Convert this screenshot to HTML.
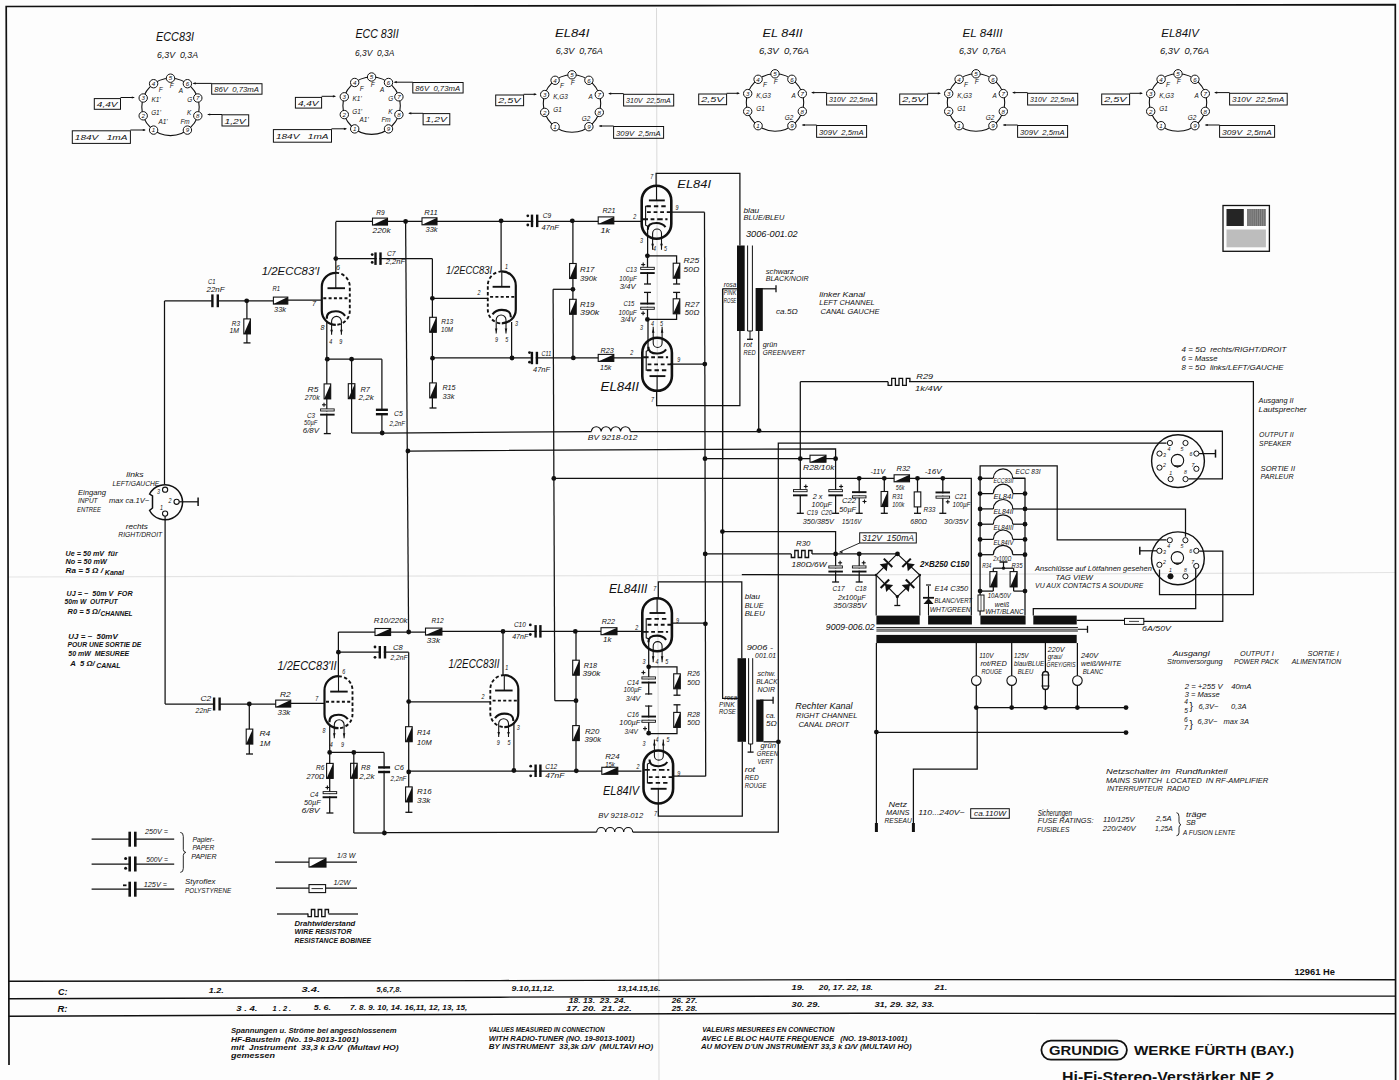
<!DOCTYPE html><html><head><meta charset="utf-8"><style>html,body{margin:0;padding:0;background:#fff;}svg{display:block;}</style></head><body><svg width="1399" height="1080" viewBox="0 0 1399 1080"><rect width="1399" height="1080" fill="#fdfdfd"/><polyline points="656.5,8 659,1080" fill="none" stroke="#dadada" stroke-width="1.0"/>
<polyline points="8,577 700,575.5 1395,572.5" fill="none" stroke="#e4e4e4" stroke-width="1.2"/>
<polyline points="9,1065 8,540 6.2,6.5 700,5.6 1395.3,4.6 1395.6,1080" fill="none" stroke="#111" stroke-width="1.7"/>
<polyline points="8.5,981.3 500,980.6 860,979.6 1200,979.6 1395,979.8" fill="none" stroke="#111" stroke-width="1.4"/>
<polyline points="8.5,998.8 500,997.2 860,995.9 1200,996.2 1395,996.1" fill="none" stroke="#111" stroke-width="1.4"/>
<polyline points="8.5,1016.3 500,1014.3 860,1013.2 1200,1013.6 1395,1013.7" fill="none" stroke="#111" stroke-width="1.4"/>
<text x="58" y="994.5" font-size="9.8" font-style="italic" font-weight="bold" font-family="Liberation Sans" fill="#111" style="white-space:pre" textLength="9.5" lengthAdjust="spacingAndGlyphs">C:</text>
<text x="208.7" y="992.8" font-size="7.8" font-style="italic" font-weight="bold" font-family="Liberation Sans" fill="#111" style="white-space:pre" textLength="15" lengthAdjust="spacingAndGlyphs">1.2.</text>
<text x="301.4" y="992.3" font-size="7.8" font-style="italic" font-weight="bold" font-family="Liberation Sans" fill="#111" style="white-space:pre" textLength="18.6" lengthAdjust="spacingAndGlyphs">3.4.</text>
<text x="376.6" y="991.6" font-size="7.8" font-style="italic" font-weight="bold" font-family="Liberation Sans" fill="#111" style="white-space:pre" textLength="24.9" lengthAdjust="spacingAndGlyphs">5,6,7,8.</text>
<text x="511.6" y="991.4" font-size="7.8" font-style="italic" font-weight="bold" font-family="Liberation Sans" fill="#111" style="white-space:pre" textLength="42.9" lengthAdjust="spacingAndGlyphs">9.10,11,12.</text>
<text x="617.4" y="991.2" font-size="7.8" font-style="italic" font-weight="bold" font-family="Liberation Sans" fill="#111" style="white-space:pre" textLength="42.9" lengthAdjust="spacingAndGlyphs">13,14.15,16.</text>
<text x="791.5" y="990.2" font-size="7.8" font-style="italic" font-weight="bold" font-family="Liberation Sans" fill="#111" style="white-space:pre" textLength="12.9" lengthAdjust="spacingAndGlyphs">19.</text>
<text x="818.7" y="990.2" font-size="7.8" font-style="italic" font-weight="bold" font-family="Liberation Sans" fill="#111" style="white-space:pre" textLength="54.3" lengthAdjust="spacingAndGlyphs">20, 17. 22, 18.</text>
<text x="934.5" y="990" font-size="7.8" font-style="italic" font-weight="bold" font-family="Liberation Sans" fill="#111" style="white-space:pre" textLength="12.8" lengthAdjust="spacingAndGlyphs">21.</text>
<text x="57.5" y="1012.2" font-size="9.8" font-style="italic" font-weight="bold" font-family="Liberation Sans" fill="#111" style="white-space:pre" textLength="10" lengthAdjust="spacingAndGlyphs">R:</text>
<text x="236.2" y="1010.8" font-size="7.8" font-style="italic" font-weight="bold" font-family="Liberation Sans" fill="#111" style="white-space:pre" textLength="21.3" lengthAdjust="spacingAndGlyphs">3 . 4.</text>
<text x="272.5" y="1010.8" font-size="7.8" font-style="italic" font-weight="bold" font-family="Liberation Sans" fill="#111" style="white-space:pre" textLength="18.7" lengthAdjust="spacingAndGlyphs">1 . 2 .</text>
<text x="313.7" y="1010.3" font-size="7.8" font-style="italic" font-weight="bold" font-family="Liberation Sans" fill="#111" style="white-space:pre" textLength="17.3" lengthAdjust="spacingAndGlyphs">5. 6.</text>
<text x="350" y="1009.6" font-size="7.8" font-style="italic" font-weight="bold" font-family="Liberation Sans" fill="#111" style="white-space:pre" textLength="117.3" lengthAdjust="spacingAndGlyphs">7. 8. 9. 10, 14. 16,11, 12, 13, 15,</text>
<text x="568.8" y="1003" font-size="7.8" font-style="italic" font-weight="bold" font-family="Liberation Sans" fill="#111" style="white-space:pre" textLength="57.2" lengthAdjust="spacingAndGlyphs">18. 13.  23. 24.</text>
<text x="566" y="1011.4" font-size="7.8" font-style="italic" font-weight="bold" font-family="Liberation Sans" fill="#111" style="white-space:pre" textLength="65.7" lengthAdjust="spacingAndGlyphs">17. 20.  21. 22.</text>
<text x="671.7" y="1003" font-size="7.8" font-style="italic" font-weight="bold" font-family="Liberation Sans" fill="#111" style="white-space:pre" textLength="25.7" lengthAdjust="spacingAndGlyphs">26. 27.</text>
<text x="671.7" y="1011" font-size="7.8" font-style="italic" font-weight="bold" font-family="Liberation Sans" fill="#111" style="white-space:pre" textLength="25.7" lengthAdjust="spacingAndGlyphs">25. 28.</text>
<text x="791.5" y="1007.4" font-size="7.8" font-style="italic" font-weight="bold" font-family="Liberation Sans" fill="#111" style="white-space:pre" textLength="28.5" lengthAdjust="spacingAndGlyphs">30. 29.</text>
<text x="874.4" y="1007.4" font-size="7.8" font-style="italic" font-weight="bold" font-family="Liberation Sans" fill="#111" style="white-space:pre" textLength="60.1" lengthAdjust="spacingAndGlyphs">31, 29. 32, 33.</text>
<text x="231" y="1033.1" font-size="6.7" font-style="italic" font-weight="bold" font-family="Liberation Sans" fill="#111" style="white-space:pre" textLength="165.6" lengthAdjust="spacingAndGlyphs">Spannungen u. Ströme bei angeschlossenem</text>
<text x="231" y="1041.7" font-size="6.7" font-style="italic" font-weight="bold" font-family="Liberation Sans" fill="#111" style="white-space:pre" textLength="127.6" lengthAdjust="spacingAndGlyphs">HF-Baustein  (No. 19-8013-1001)</text>
<text x="231" y="1050" font-size="6.7" font-style="italic" font-weight="bold" font-family="Liberation Sans" fill="#111" style="white-space:pre" textLength="167.6" lengthAdjust="spacingAndGlyphs">mit  Jnstrument  33,3 k Ω/V  (Multavi HO)</text>
<text x="231" y="1058.4" font-size="6.7" font-style="italic" font-weight="bold" font-family="Liberation Sans" fill="#111" style="white-space:pre" textLength="44" lengthAdjust="spacingAndGlyphs">gemessen</text>
<text x="488.7" y="1032.4" font-size="6.7" font-style="italic" font-weight="bold" font-family="Liberation Sans" fill="#111" style="white-space:pre" textLength="115.8" lengthAdjust="spacingAndGlyphs">VALUES MEASURED IN CONNECTION</text>
<text x="488.7" y="1040.6" font-size="6.7" font-style="italic" font-weight="bold" font-family="Liberation Sans" fill="#111" style="white-space:pre" textLength="145.8" lengthAdjust="spacingAndGlyphs">WITH RADIO-TUNER (NO. 19-8013-1001)</text>
<text x="488.7" y="1049" font-size="6.7" font-style="italic" font-weight="bold" font-family="Liberation Sans" fill="#111" style="white-space:pre" textLength="164.4" lengthAdjust="spacingAndGlyphs">BY INSTRUMENT  33,3k Ω/V  (MULTAVI HO)</text>
<text x="702.3" y="1032.4" font-size="6.7" font-style="italic" font-weight="bold" font-family="Liberation Sans" fill="#111" style="white-space:pre" textLength="132.1" lengthAdjust="spacingAndGlyphs">VALEURS MESUREES EN CONNECTION</text>
<text x="701.5" y="1040.6" font-size="6.7" font-style="italic" font-weight="bold" font-family="Liberation Sans" fill="#111" style="white-space:pre" textLength="205.8" lengthAdjust="spacingAndGlyphs">AVEC LE BLOC HAUTE FREQUENCE   (NO. 19-8013-1001)</text>
<text x="700.9" y="1049" font-size="6.7" font-style="italic" font-weight="bold" font-family="Liberation Sans" fill="#111" style="white-space:pre" textLength="210.7" lengthAdjust="spacingAndGlyphs">AU MOYEN D'UN JNSTRUMENT 33,3 k Ω/V (MULTAVI HO)</text>
<rect x="1041.4" y="1040.6" width="85.5" height="19" rx="9.5" fill="none" stroke="#111" stroke-width="1.8"/>
<text x="1049" y="1054.9" font-size="12.8" font-style="normal" font-weight="bold" font-family="Liberation Sans" fill="#111" style="white-space:pre" textLength="70" lengthAdjust="spacingAndGlyphs">GRUNDIG</text>
<text x="1134" y="1055.3" font-size="13.4" font-style="normal" font-weight="bold" font-family="Liberation Sans" fill="#111" style="white-space:pre" textLength="160" lengthAdjust="spacingAndGlyphs">WERKE FÜRTH (BAY.)</text>
<text x="1062" y="1082" font-size="15.4" font-style="normal" font-weight="bold" font-family="Liberation Sans" fill="#111" style="white-space:pre" textLength="212" lengthAdjust="spacingAndGlyphs">Hi-Fi-Stereo-Verstärker NF 2</text>
<text x="1294.4" y="975" font-size="9.5" font-style="normal" font-weight="bold" font-family="Liberation Sans" fill="#111" style="white-space:pre" textLength="40.6" lengthAdjust="spacingAndGlyphs">12961 He</text>
<text x="156" y="40.5" font-size="12" font-style="italic" font-weight="normal" font-family="Liberation Sans" fill="#111" style="white-space:pre" textLength="38" lengthAdjust="spacingAndGlyphs">ECC83I</text>
<text x="157" y="57.5" font-size="9.2" font-style="italic" font-weight="normal" font-family="Liberation Sans" fill="#111" style="white-space:pre" textLength="41" lengthAdjust="spacingAndGlyphs">6,3V  0,3A</text>
<circle cx="170.5" cy="106.9" r="28.7" fill="none" stroke="#111" stroke-width="1.1"/>
<circle cx="170.5" cy="78.2" r="4.2" fill="#fff" stroke="#111" stroke-width="1.0"/>
<text x="170.5" y="80.4" font-size="6.2" font-style="italic" font-family="Liberation Sans" text-anchor="middle" fill="#111">5</text>
<circle cx="187.4" cy="83.7" r="4.2" fill="#fff" stroke="#111" stroke-width="1.0"/>
<text x="187.4" y="85.9" font-size="6.2" font-style="italic" font-family="Liberation Sans" text-anchor="middle" fill="#111">6</text>
<circle cx="197.8" cy="98" r="4.2" fill="#fff" stroke="#111" stroke-width="1.0"/>
<text x="197.8" y="100.2" font-size="6.2" font-style="italic" font-family="Liberation Sans" text-anchor="middle" fill="#111">7</text>
<circle cx="197.8" cy="115.8" r="4.2" fill="#fff" stroke="#111" stroke-width="1.0"/>
<text x="197.8" y="118" font-size="6.2" font-style="italic" font-family="Liberation Sans" text-anchor="middle" fill="#111">8</text>
<circle cx="187.4" cy="130.1" r="4.2" fill="#fff" stroke="#111" stroke-width="1.0"/>
<text x="187.4" y="132.3" font-size="6.2" font-style="italic" font-family="Liberation Sans" text-anchor="middle" fill="#111">9</text>
<circle cx="153.6" cy="130.1" r="4.2" fill="#fff" stroke="#111" stroke-width="1.0"/>
<text x="153.6" y="132.3" font-size="6.2" font-style="italic" font-family="Liberation Sans" text-anchor="middle" fill="#111">1</text>
<circle cx="143.2" cy="115.8" r="4.2" fill="#fff" stroke="#111" stroke-width="1.0"/>
<text x="143.2" y="118" font-size="6.2" font-style="italic" font-family="Liberation Sans" text-anchor="middle" fill="#111">2</text>
<circle cx="143.2" cy="98" r="4.2" fill="#fff" stroke="#111" stroke-width="1.0"/>
<text x="143.2" y="100.2" font-size="6.2" font-style="italic" font-family="Liberation Sans" text-anchor="middle" fill="#111">3</text>
<circle cx="153.6" cy="83.7" r="4.2" fill="#fff" stroke="#111" stroke-width="1.0"/>
<text x="153.6" y="85.9" font-size="6.2" font-style="italic" font-family="Liberation Sans" text-anchor="middle" fill="#111">4</text>
<rect x="211.7" y="83.7" width="50.3" height="10.5" fill="none" stroke="#111" stroke-width="1.0"/>
<text x="214.2" y="92" font-size="7.8" font-style="italic" font-weight="normal" font-family="Liberation Sans" fill="#111" style="white-space:pre" textLength="44.8" lengthAdjust="spacingAndGlyphs">86V  0,73mA</text>
<polyline points="193.5,83.4 211.7,83.4" fill="none" stroke="#111" stroke-width="1.0"/>
<polygon points="192.5,83.4 195.7,82.3 195.7,84.5" fill="#111"/>
<rect x="94.3" y="98.6" width="26.2" height="10.7" fill="none" stroke="#111" stroke-width="1.0"/>
<text x="96.8" y="107.1" font-size="7.8" font-style="italic" font-weight="normal" font-family="Liberation Sans" fill="#111" style="white-space:pre" textLength="20.7" lengthAdjust="spacingAndGlyphs">4,4V</text>
<polyline points="120.5,97.5 134,97.5" fill="none" stroke="#111" stroke-width="1.0"/>
<polygon points="135,97.5 131.8,96.4 131.8,98.6" fill="#111"/>
<rect x="222" y="114.8" width="26.7" height="11.2" fill="none" stroke="#111" stroke-width="1.0"/>
<text x="224.5" y="123.5" font-size="7.8" font-style="italic" font-weight="normal" font-family="Liberation Sans" fill="#111" style="white-space:pre" textLength="21.2" lengthAdjust="spacingAndGlyphs">1,2V</text>
<polyline points="208,114.5 222,114.5" fill="none" stroke="#111" stroke-width="1.0"/>
<polygon points="207,114.5 210.2,113.4 210.2,115.6" fill="#111"/>
<rect x="72.3" y="130.8" width="58.1" height="12.6" fill="none" stroke="#111" stroke-width="1.0"/>
<text x="74.8" y="140.2" font-size="7.8" font-style="italic" font-weight="normal" font-family="Liberation Sans" fill="#111" style="white-space:pre" textLength="52.6" lengthAdjust="spacingAndGlyphs">184V   1mA</text>
<polyline points="130.4,130 145,130" fill="none" stroke="#111" stroke-width="1.0"/>
<polygon points="146,130 142.8,128.9 142.8,131.1" fill="#111"/>
<text x="160.6" y="92.2" font-size="6.4" font-style="italic" font-family="Liberation Sans" text-anchor="middle" fill="#111">F</text>
<text x="171.6" y="88.2" font-size="6.4" font-style="italic" font-family="Liberation Sans" text-anchor="middle" fill="#111">F</text>
<text x="181" y="93" font-size="6.4" font-style="italic" font-family="Liberation Sans" text-anchor="middle" fill="#111">A</text>
<text x="156" y="102.2" font-size="6.4" font-style="italic" font-family="Liberation Sans" text-anchor="middle" fill="#111">K1'</text>
<text x="189.7" y="102.2" font-size="6.4" font-style="italic" font-family="Liberation Sans" text-anchor="middle" fill="#111">G</text>
<text x="156" y="115" font-size="6.4" font-style="italic" font-family="Liberation Sans" text-anchor="middle" fill="#111">G1'</text>
<text x="189.2" y="115.2" font-size="6.4" font-style="italic" font-family="Liberation Sans" text-anchor="middle" fill="#111">K</text>
<text x="163" y="123.6" font-size="6.4" font-style="italic" font-family="Liberation Sans" text-anchor="middle" fill="#111">A1'</text>
<text x="185" y="123.6" font-size="6.4" font-style="italic" font-family="Liberation Sans" text-anchor="middle" fill="#111">Fm</text>
<text x="355.4" y="38.3" font-size="12" font-style="italic" font-weight="normal" font-family="Liberation Sans" fill="#111" style="white-space:pre" textLength="43.2" lengthAdjust="spacingAndGlyphs">ECC 83II</text>
<text x="355" y="55.5" font-size="9.2" font-style="italic" font-weight="normal" font-family="Liberation Sans" fill="#111" style="white-space:pre" textLength="39.3" lengthAdjust="spacingAndGlyphs">6,3V  0,3A</text>
<circle cx="371.6" cy="105.7" r="28.7" fill="none" stroke="#111" stroke-width="1.1"/>
<circle cx="371.6" cy="77" r="4.2" fill="#fff" stroke="#111" stroke-width="1.0"/>
<text x="371.6" y="79.2" font-size="6.2" font-style="italic" font-family="Liberation Sans" text-anchor="middle" fill="#111">5</text>
<circle cx="388.5" cy="82.5" r="4.2" fill="#fff" stroke="#111" stroke-width="1.0"/>
<text x="388.5" y="84.7" font-size="6.2" font-style="italic" font-family="Liberation Sans" text-anchor="middle" fill="#111">6</text>
<circle cx="398.9" cy="96.8" r="4.2" fill="#fff" stroke="#111" stroke-width="1.0"/>
<text x="398.9" y="99" font-size="6.2" font-style="italic" font-family="Liberation Sans" text-anchor="middle" fill="#111">7</text>
<circle cx="398.9" cy="114.6" r="4.2" fill="#fff" stroke="#111" stroke-width="1.0"/>
<text x="398.9" y="116.8" font-size="6.2" font-style="italic" font-family="Liberation Sans" text-anchor="middle" fill="#111">8</text>
<circle cx="388.5" cy="128.9" r="4.2" fill="#fff" stroke="#111" stroke-width="1.0"/>
<text x="388.5" y="131.1" font-size="6.2" font-style="italic" font-family="Liberation Sans" text-anchor="middle" fill="#111">9</text>
<circle cx="354.7" cy="128.9" r="4.2" fill="#fff" stroke="#111" stroke-width="1.0"/>
<text x="354.7" y="131.1" font-size="6.2" font-style="italic" font-family="Liberation Sans" text-anchor="middle" fill="#111">1</text>
<circle cx="344.3" cy="114.6" r="4.2" fill="#fff" stroke="#111" stroke-width="1.0"/>
<text x="344.3" y="116.8" font-size="6.2" font-style="italic" font-family="Liberation Sans" text-anchor="middle" fill="#111">2</text>
<circle cx="344.3" cy="96.8" r="4.2" fill="#fff" stroke="#111" stroke-width="1.0"/>
<text x="344.3" y="99" font-size="6.2" font-style="italic" font-family="Liberation Sans" text-anchor="middle" fill="#111">3</text>
<circle cx="354.7" cy="82.5" r="4.2" fill="#fff" stroke="#111" stroke-width="1.0"/>
<text x="354.7" y="84.7" font-size="6.2" font-style="italic" font-family="Liberation Sans" text-anchor="middle" fill="#111">4</text>
<rect x="412.8" y="82.5" width="50.3" height="10.5" fill="none" stroke="#111" stroke-width="1.0"/>
<text x="415.3" y="90.8" font-size="7.8" font-style="italic" font-weight="normal" font-family="Liberation Sans" fill="#111" style="white-space:pre" textLength="44.8" lengthAdjust="spacingAndGlyphs">86V  0,73mA</text>
<polyline points="394.6,82.2 412.8,82.2" fill="none" stroke="#111" stroke-width="1.0"/>
<polygon points="393.6,82.2 396.8,81.1 396.8,83.3" fill="#111"/>
<rect x="295.4" y="97.4" width="26.2" height="10.7" fill="none" stroke="#111" stroke-width="1.0"/>
<text x="297.9" y="105.8" font-size="7.8" font-style="italic" font-weight="normal" font-family="Liberation Sans" fill="#111" style="white-space:pre" textLength="20.7" lengthAdjust="spacingAndGlyphs">4,4V</text>
<polyline points="321.6,96.3 335.1,96.3" fill="none" stroke="#111" stroke-width="1.0"/>
<polygon points="336.1,96.3 332.9,95.2 332.9,97.4" fill="#111"/>
<rect x="423.1" y="113.6" width="26.7" height="11.2" fill="none" stroke="#111" stroke-width="1.0"/>
<text x="425.6" y="122.3" font-size="7.8" font-style="italic" font-weight="normal" font-family="Liberation Sans" fill="#111" style="white-space:pre" textLength="21.2" lengthAdjust="spacingAndGlyphs">1,2V</text>
<polyline points="409.1,113.3 423.1,113.3" fill="none" stroke="#111" stroke-width="1.0"/>
<polygon points="408.1,113.3 411.3,112.2 411.3,114.4" fill="#111"/>
<rect x="273.4" y="129.6" width="58.1" height="12.6" fill="none" stroke="#111" stroke-width="1.0"/>
<text x="275.9" y="139" font-size="7.8" font-style="italic" font-weight="normal" font-family="Liberation Sans" fill="#111" style="white-space:pre" textLength="52.6" lengthAdjust="spacingAndGlyphs">184V   1mA</text>
<polyline points="331.5,128.8 346.1,128.8" fill="none" stroke="#111" stroke-width="1.0"/>
<polygon points="347.1,128.8 343.9,127.7 343.9,129.9" fill="#111"/>
<text x="361.7" y="91" font-size="6.4" font-style="italic" font-family="Liberation Sans" text-anchor="middle" fill="#111">F</text>
<text x="372.7" y="87" font-size="6.4" font-style="italic" font-family="Liberation Sans" text-anchor="middle" fill="#111">F</text>
<text x="382.1" y="91.8" font-size="6.4" font-style="italic" font-family="Liberation Sans" text-anchor="middle" fill="#111">A</text>
<text x="357.1" y="101" font-size="6.4" font-style="italic" font-family="Liberation Sans" text-anchor="middle" fill="#111">K1'</text>
<text x="390.8" y="101" font-size="6.4" font-style="italic" font-family="Liberation Sans" text-anchor="middle" fill="#111">G</text>
<text x="357.1" y="113.8" font-size="6.4" font-style="italic" font-family="Liberation Sans" text-anchor="middle" fill="#111">G1'</text>
<text x="390.3" y="114" font-size="6.4" font-style="italic" font-family="Liberation Sans" text-anchor="middle" fill="#111">K</text>
<text x="364.1" y="122.4" font-size="6.4" font-style="italic" font-family="Liberation Sans" text-anchor="middle" fill="#111">A1'</text>
<text x="386.1" y="122.4" font-size="6.4" font-style="italic" font-family="Liberation Sans" text-anchor="middle" fill="#111">Fm</text>
<text x="555" y="37.3" font-size="11.5" font-style="italic" font-weight="normal" font-family="Liberation Sans" fill="#111" style="white-space:pre" textLength="34.3" lengthAdjust="spacingAndGlyphs">EL84I</text>
<text x="555.7" y="54.4" font-size="9.2" font-style="italic" font-weight="normal" font-family="Liberation Sans" fill="#111" style="white-space:pre" textLength="47.2" lengthAdjust="spacingAndGlyphs">6,3V  0,76A</text>
<circle cx="572" cy="103.5" r="28.7" fill="none" stroke="#111" stroke-width="1.1"/>
<circle cx="572" cy="74.8" r="4.2" fill="#fff" stroke="#111" stroke-width="1.0"/>
<text x="572" y="77" font-size="6.2" font-style="italic" font-family="Liberation Sans" text-anchor="middle" fill="#111">5</text>
<circle cx="588.9" cy="80.3" r="4.2" fill="#fff" stroke="#111" stroke-width="1.0"/>
<text x="588.9" y="82.5" font-size="6.2" font-style="italic" font-family="Liberation Sans" text-anchor="middle" fill="#111">6</text>
<circle cx="599.3" cy="94.6" r="4.2" fill="#fff" stroke="#111" stroke-width="1.0"/>
<text x="599.3" y="96.8" font-size="6.2" font-style="italic" font-family="Liberation Sans" text-anchor="middle" fill="#111">7</text>
<circle cx="599.3" cy="112.4" r="4.2" fill="#fff" stroke="#111" stroke-width="1.0"/>
<text x="599.3" y="114.6" font-size="6.2" font-style="italic" font-family="Liberation Sans" text-anchor="middle" fill="#111">8</text>
<circle cx="588.9" cy="126.7" r="4.2" fill="#fff" stroke="#111" stroke-width="1.0"/>
<text x="588.9" y="128.9" font-size="6.2" font-style="italic" font-family="Liberation Sans" text-anchor="middle" fill="#111">9</text>
<circle cx="555.1" cy="126.7" r="4.2" fill="#fff" stroke="#111" stroke-width="1.0"/>
<text x="555.1" y="128.9" font-size="6.2" font-style="italic" font-family="Liberation Sans" text-anchor="middle" fill="#111">1</text>
<circle cx="544.7" cy="112.4" r="4.2" fill="#fff" stroke="#111" stroke-width="1.0"/>
<text x="544.7" y="114.6" font-size="6.2" font-style="italic" font-family="Liberation Sans" text-anchor="middle" fill="#111">2</text>
<circle cx="544.7" cy="94.6" r="4.2" fill="#fff" stroke="#111" stroke-width="1.0"/>
<text x="544.7" y="96.8" font-size="6.2" font-style="italic" font-family="Liberation Sans" text-anchor="middle" fill="#111">3</text>
<circle cx="555.1" cy="80.3" r="4.2" fill="#fff" stroke="#111" stroke-width="1.0"/>
<text x="555.1" y="82.5" font-size="6.2" font-style="italic" font-family="Liberation Sans" text-anchor="middle" fill="#111">4</text>
<rect x="495.7" y="95" width="27.9" height="10.7" fill="none" stroke="#111" stroke-width="1.0"/>
<text x="498.2" y="103.4" font-size="7.8" font-style="italic" font-weight="normal" font-family="Liberation Sans" fill="#111" style="white-space:pre" textLength="22.4" lengthAdjust="spacingAndGlyphs">2,5V</text>
<polyline points="523.6,94.3 536,94.3" fill="none" stroke="#111" stroke-width="1.0"/>
<polygon points="537,94.3 533.8,93.2 533.8,95.4" fill="#111"/>
<rect x="623.6" y="94.3" width="50.1" height="11.7" fill="none" stroke="#111" stroke-width="1.0"/>
<text x="626.1" y="103.2" font-size="7.8" font-style="italic" font-weight="normal" font-family="Liberation Sans" fill="#111" style="white-space:pre" textLength="44.6" lengthAdjust="spacingAndGlyphs">310V  22,5mA</text>
<polyline points="609,93.6 623.6,93.6" fill="none" stroke="#111" stroke-width="1.0"/>
<polygon points="608,93.6 611.2,92.5 611.2,94.7" fill="#111"/>
<rect x="613.6" y="126.5" width="50" height="11.8" fill="none" stroke="#111" stroke-width="1.0"/>
<text x="616.1" y="135.5" font-size="7.8" font-style="italic" font-weight="normal" font-family="Liberation Sans" fill="#111" style="white-space:pre" textLength="44.5" lengthAdjust="spacingAndGlyphs">309V  2,5mA</text>
<polyline points="599.6,126 613.6,126" fill="none" stroke="#111" stroke-width="1.0"/>
<polygon points="598.6,126 601.8,124.9 601.8,127.1" fill="#111"/>
<text x="562" y="88.2" font-size="6.4" font-style="italic" font-family="Liberation Sans" text-anchor="middle" fill="#111">F</text>
<text x="572.6" y="85.1" font-size="6.4" font-style="italic" font-family="Liberation Sans" text-anchor="middle" fill="#111">F</text>
<text x="560.6" y="99.3" font-size="6.4" font-style="italic" font-family="Liberation Sans" text-anchor="middle" fill="#111">K,G3</text>
<text x="590.7" y="99.3" font-size="6.4" font-style="italic" font-family="Liberation Sans" text-anchor="middle" fill="#111">A</text>
<text x="557.5" y="112.2" font-size="6.4" font-style="italic" font-family="Liberation Sans" text-anchor="middle" fill="#111">G1</text>
<text x="586" y="120.8" font-size="6.4" font-style="italic" font-family="Liberation Sans" text-anchor="middle" fill="#111">G2</text>
<text x="762.5" y="37.1" font-size="11.5" font-style="italic" font-weight="normal" font-family="Liberation Sans" fill="#111" style="white-space:pre" textLength="40" lengthAdjust="spacingAndGlyphs">EL 84II</text>
<text x="759" y="54.3" font-size="9.2" font-style="italic" font-weight="normal" font-family="Liberation Sans" fill="#111" style="white-space:pre" textLength="50" lengthAdjust="spacingAndGlyphs">6,3V  0,76A</text>
<circle cx="775" cy="102.5" r="28.7" fill="none" stroke="#111" stroke-width="1.1"/>
<circle cx="775" cy="73.8" r="4.2" fill="#fff" stroke="#111" stroke-width="1.0"/>
<text x="775" y="76" font-size="6.2" font-style="italic" font-family="Liberation Sans" text-anchor="middle" fill="#111">5</text>
<circle cx="791.9" cy="79.3" r="4.2" fill="#fff" stroke="#111" stroke-width="1.0"/>
<text x="791.9" y="81.5" font-size="6.2" font-style="italic" font-family="Liberation Sans" text-anchor="middle" fill="#111">6</text>
<circle cx="802.3" cy="93.6" r="4.2" fill="#fff" stroke="#111" stroke-width="1.0"/>
<text x="802.3" y="95.8" font-size="6.2" font-style="italic" font-family="Liberation Sans" text-anchor="middle" fill="#111">7</text>
<circle cx="802.3" cy="111.4" r="4.2" fill="#fff" stroke="#111" stroke-width="1.0"/>
<text x="802.3" y="113.6" font-size="6.2" font-style="italic" font-family="Liberation Sans" text-anchor="middle" fill="#111">8</text>
<circle cx="791.9" cy="125.7" r="4.2" fill="#fff" stroke="#111" stroke-width="1.0"/>
<text x="791.9" y="127.9" font-size="6.2" font-style="italic" font-family="Liberation Sans" text-anchor="middle" fill="#111">9</text>
<circle cx="758.1" cy="125.7" r="4.2" fill="#fff" stroke="#111" stroke-width="1.0"/>
<text x="758.1" y="127.9" font-size="6.2" font-style="italic" font-family="Liberation Sans" text-anchor="middle" fill="#111">1</text>
<circle cx="747.7" cy="111.4" r="4.2" fill="#fff" stroke="#111" stroke-width="1.0"/>
<text x="747.7" y="113.6" font-size="6.2" font-style="italic" font-family="Liberation Sans" text-anchor="middle" fill="#111">2</text>
<circle cx="747.7" cy="93.6" r="4.2" fill="#fff" stroke="#111" stroke-width="1.0"/>
<text x="747.7" y="95.8" font-size="6.2" font-style="italic" font-family="Liberation Sans" text-anchor="middle" fill="#111">3</text>
<circle cx="758.1" cy="79.3" r="4.2" fill="#fff" stroke="#111" stroke-width="1.0"/>
<text x="758.1" y="81.5" font-size="6.2" font-style="italic" font-family="Liberation Sans" text-anchor="middle" fill="#111">4</text>
<rect x="698.7" y="94" width="27.9" height="10.7" fill="none" stroke="#111" stroke-width="1.0"/>
<text x="701.2" y="102.4" font-size="7.8" font-style="italic" font-weight="normal" font-family="Liberation Sans" fill="#111" style="white-space:pre" textLength="22.4" lengthAdjust="spacingAndGlyphs">2,5V</text>
<polyline points="726.6,93.3 739,93.3" fill="none" stroke="#111" stroke-width="1.0"/>
<polygon points="740,93.3 736.8,92.2 736.8,94.4" fill="#111"/>
<rect x="826.6" y="93.3" width="50.1" height="11.7" fill="none" stroke="#111" stroke-width="1.0"/>
<text x="829.1" y="102.2" font-size="7.8" font-style="italic" font-weight="normal" font-family="Liberation Sans" fill="#111" style="white-space:pre" textLength="44.6" lengthAdjust="spacingAndGlyphs">310V  22,5mA</text>
<polyline points="812,92.6 826.6,92.6" fill="none" stroke="#111" stroke-width="1.0"/>
<polygon points="811,92.6 814.2,91.5 814.2,93.7" fill="#111"/>
<rect x="816.6" y="125.5" width="50" height="11.8" fill="none" stroke="#111" stroke-width="1.0"/>
<text x="819.1" y="134.5" font-size="7.8" font-style="italic" font-weight="normal" font-family="Liberation Sans" fill="#111" style="white-space:pre" textLength="44.5" lengthAdjust="spacingAndGlyphs">309V  2,5mA</text>
<polyline points="802.6,125 816.6,125" fill="none" stroke="#111" stroke-width="1.0"/>
<polygon points="801.6,125 804.8,123.9 804.8,126.1" fill="#111"/>
<text x="765" y="87.2" font-size="6.4" font-style="italic" font-family="Liberation Sans" text-anchor="middle" fill="#111">F</text>
<text x="775.6" y="84.1" font-size="6.4" font-style="italic" font-family="Liberation Sans" text-anchor="middle" fill="#111">F</text>
<text x="763.6" y="98.3" font-size="6.4" font-style="italic" font-family="Liberation Sans" text-anchor="middle" fill="#111">K,G3</text>
<text x="793.7" y="98.3" font-size="6.4" font-style="italic" font-family="Liberation Sans" text-anchor="middle" fill="#111">A</text>
<text x="760.5" y="111.2" font-size="6.4" font-style="italic" font-family="Liberation Sans" text-anchor="middle" fill="#111">G1</text>
<text x="789" y="119.8" font-size="6.4" font-style="italic" font-family="Liberation Sans" text-anchor="middle" fill="#111">G2</text>
<text x="962.5" y="37.1" font-size="11.5" font-style="italic" font-weight="normal" font-family="Liberation Sans" fill="#111" style="white-space:pre" textLength="40" lengthAdjust="spacingAndGlyphs">EL 84III</text>
<text x="959" y="54.3" font-size="9.2" font-style="italic" font-weight="normal" font-family="Liberation Sans" fill="#111" style="white-space:pre" textLength="47" lengthAdjust="spacingAndGlyphs">6,3V  0,76A</text>
<circle cx="976" cy="102.5" r="28.7" fill="none" stroke="#111" stroke-width="1.1"/>
<circle cx="976" cy="73.8" r="4.2" fill="#fff" stroke="#111" stroke-width="1.0"/>
<text x="976" y="76" font-size="6.2" font-style="italic" font-family="Liberation Sans" text-anchor="middle" fill="#111">5</text>
<circle cx="992.9" cy="79.3" r="4.2" fill="#fff" stroke="#111" stroke-width="1.0"/>
<text x="992.9" y="81.5" font-size="6.2" font-style="italic" font-family="Liberation Sans" text-anchor="middle" fill="#111">6</text>
<circle cx="1003.3" cy="93.6" r="4.2" fill="#fff" stroke="#111" stroke-width="1.0"/>
<text x="1003.3" y="95.8" font-size="6.2" font-style="italic" font-family="Liberation Sans" text-anchor="middle" fill="#111">7</text>
<circle cx="1003.3" cy="111.4" r="4.2" fill="#fff" stroke="#111" stroke-width="1.0"/>
<text x="1003.3" y="113.6" font-size="6.2" font-style="italic" font-family="Liberation Sans" text-anchor="middle" fill="#111">8</text>
<circle cx="992.9" cy="125.7" r="4.2" fill="#fff" stroke="#111" stroke-width="1.0"/>
<text x="992.9" y="127.9" font-size="6.2" font-style="italic" font-family="Liberation Sans" text-anchor="middle" fill="#111">9</text>
<circle cx="959.1" cy="125.7" r="4.2" fill="#fff" stroke="#111" stroke-width="1.0"/>
<text x="959.1" y="127.9" font-size="6.2" font-style="italic" font-family="Liberation Sans" text-anchor="middle" fill="#111">1</text>
<circle cx="948.7" cy="111.4" r="4.2" fill="#fff" stroke="#111" stroke-width="1.0"/>
<text x="948.7" y="113.6" font-size="6.2" font-style="italic" font-family="Liberation Sans" text-anchor="middle" fill="#111">2</text>
<circle cx="948.7" cy="93.6" r="4.2" fill="#fff" stroke="#111" stroke-width="1.0"/>
<text x="948.7" y="95.8" font-size="6.2" font-style="italic" font-family="Liberation Sans" text-anchor="middle" fill="#111">3</text>
<circle cx="959.1" cy="79.3" r="4.2" fill="#fff" stroke="#111" stroke-width="1.0"/>
<text x="959.1" y="81.5" font-size="6.2" font-style="italic" font-family="Liberation Sans" text-anchor="middle" fill="#111">4</text>
<rect x="899.7" y="94" width="27.9" height="10.7" fill="none" stroke="#111" stroke-width="1.0"/>
<text x="902.2" y="102.4" font-size="7.8" font-style="italic" font-weight="normal" font-family="Liberation Sans" fill="#111" style="white-space:pre" textLength="22.4" lengthAdjust="spacingAndGlyphs">2,5V</text>
<polyline points="927.6,93.3 940,93.3" fill="none" stroke="#111" stroke-width="1.0"/>
<polygon points="941,93.3 937.8,92.2 937.8,94.4" fill="#111"/>
<rect x="1027.6" y="93.3" width="50.1" height="11.7" fill="none" stroke="#111" stroke-width="1.0"/>
<text x="1030.1" y="102.2" font-size="7.8" font-style="italic" font-weight="normal" font-family="Liberation Sans" fill="#111" style="white-space:pre" textLength="44.6" lengthAdjust="spacingAndGlyphs">310V  22,5mA</text>
<polyline points="1013,92.6 1027.6,92.6" fill="none" stroke="#111" stroke-width="1.0"/>
<polygon points="1012,92.6 1015.2,91.5 1015.2,93.7" fill="#111"/>
<rect x="1017.6" y="125.5" width="50" height="11.8" fill="none" stroke="#111" stroke-width="1.0"/>
<text x="1020.1" y="134.5" font-size="7.8" font-style="italic" font-weight="normal" font-family="Liberation Sans" fill="#111" style="white-space:pre" textLength="44.5" lengthAdjust="spacingAndGlyphs">309V  2,5mA</text>
<polyline points="1003.6,125 1017.6,125" fill="none" stroke="#111" stroke-width="1.0"/>
<polygon points="1002.6,125 1005.8,123.9 1005.8,126.1" fill="#111"/>
<text x="966" y="87.2" font-size="6.4" font-style="italic" font-family="Liberation Sans" text-anchor="middle" fill="#111">F</text>
<text x="976.6" y="84.1" font-size="6.4" font-style="italic" font-family="Liberation Sans" text-anchor="middle" fill="#111">F</text>
<text x="964.6" y="98.3" font-size="6.4" font-style="italic" font-family="Liberation Sans" text-anchor="middle" fill="#111">K,G3</text>
<text x="994.7" y="98.3" font-size="6.4" font-style="italic" font-family="Liberation Sans" text-anchor="middle" fill="#111">A</text>
<text x="961.5" y="111.2" font-size="6.4" font-style="italic" font-family="Liberation Sans" text-anchor="middle" fill="#111">G1</text>
<text x="990" y="119.8" font-size="6.4" font-style="italic" font-family="Liberation Sans" text-anchor="middle" fill="#111">G2</text>
<text x="1161.3" y="36.5" font-size="11.5" font-style="italic" font-weight="normal" font-family="Liberation Sans" fill="#111" style="white-space:pre" textLength="37.6" lengthAdjust="spacingAndGlyphs">EL84IV</text>
<text x="1160" y="54.3" font-size="9.2" font-style="italic" font-weight="normal" font-family="Liberation Sans" fill="#111" style="white-space:pre" textLength="49" lengthAdjust="spacingAndGlyphs">6,3V  0,76A</text>
<circle cx="1178" cy="102.5" r="28.7" fill="none" stroke="#111" stroke-width="1.1"/>
<circle cx="1178" cy="73.8" r="4.2" fill="#fff" stroke="#111" stroke-width="1.0"/>
<text x="1178" y="76" font-size="6.2" font-style="italic" font-family="Liberation Sans" text-anchor="middle" fill="#111">5</text>
<circle cx="1194.9" cy="79.3" r="4.2" fill="#fff" stroke="#111" stroke-width="1.0"/>
<text x="1194.9" y="81.5" font-size="6.2" font-style="italic" font-family="Liberation Sans" text-anchor="middle" fill="#111">6</text>
<circle cx="1205.3" cy="93.6" r="4.2" fill="#fff" stroke="#111" stroke-width="1.0"/>
<text x="1205.3" y="95.8" font-size="6.2" font-style="italic" font-family="Liberation Sans" text-anchor="middle" fill="#111">7</text>
<circle cx="1205.3" cy="111.4" r="4.2" fill="#fff" stroke="#111" stroke-width="1.0"/>
<text x="1205.3" y="113.6" font-size="6.2" font-style="italic" font-family="Liberation Sans" text-anchor="middle" fill="#111">8</text>
<circle cx="1194.9" cy="125.7" r="4.2" fill="#fff" stroke="#111" stroke-width="1.0"/>
<text x="1194.9" y="127.9" font-size="6.2" font-style="italic" font-family="Liberation Sans" text-anchor="middle" fill="#111">9</text>
<circle cx="1161.1" cy="125.7" r="4.2" fill="#fff" stroke="#111" stroke-width="1.0"/>
<text x="1161.1" y="127.9" font-size="6.2" font-style="italic" font-family="Liberation Sans" text-anchor="middle" fill="#111">1</text>
<circle cx="1150.7" cy="111.4" r="4.2" fill="#fff" stroke="#111" stroke-width="1.0"/>
<text x="1150.7" y="113.6" font-size="6.2" font-style="italic" font-family="Liberation Sans" text-anchor="middle" fill="#111">2</text>
<circle cx="1150.7" cy="93.6" r="4.2" fill="#fff" stroke="#111" stroke-width="1.0"/>
<text x="1150.7" y="95.8" font-size="6.2" font-style="italic" font-family="Liberation Sans" text-anchor="middle" fill="#111">3</text>
<circle cx="1161.1" cy="79.3" r="4.2" fill="#fff" stroke="#111" stroke-width="1.0"/>
<text x="1161.1" y="81.5" font-size="6.2" font-style="italic" font-family="Liberation Sans" text-anchor="middle" fill="#111">4</text>
<rect x="1101.7" y="94" width="27.9" height="10.7" fill="none" stroke="#111" stroke-width="1.0"/>
<text x="1104.2" y="102.4" font-size="7.8" font-style="italic" font-weight="normal" font-family="Liberation Sans" fill="#111" style="white-space:pre" textLength="22.4" lengthAdjust="spacingAndGlyphs">2,5V</text>
<polyline points="1129.6,93.3 1142,93.3" fill="none" stroke="#111" stroke-width="1.0"/>
<polygon points="1143,93.3 1139.8,92.2 1139.8,94.4" fill="#111"/>
<rect x="1229.6" y="93.3" width="57.6" height="11.7" fill="none" stroke="#111" stroke-width="1.0"/>
<text x="1232.1" y="102.2" font-size="7.8" font-style="italic" font-weight="normal" font-family="Liberation Sans" fill="#111" style="white-space:pre" textLength="52.1" lengthAdjust="spacingAndGlyphs">310V  22,5mA</text>
<polyline points="1215,92.6 1229.6,92.6" fill="none" stroke="#111" stroke-width="1.0"/>
<polygon points="1214,92.6 1217.2,91.5 1217.2,93.7" fill="#111"/>
<rect x="1219.6" y="125.5" width="55" height="11.8" fill="none" stroke="#111" stroke-width="1.0"/>
<text x="1222.1" y="134.5" font-size="7.8" font-style="italic" font-weight="normal" font-family="Liberation Sans" fill="#111" style="white-space:pre" textLength="49.5" lengthAdjust="spacingAndGlyphs">309V  2,5mA</text>
<polyline points="1205.6,125 1219.6,125" fill="none" stroke="#111" stroke-width="1.0"/>
<polygon points="1204.6,125 1207.8,123.9 1207.8,126.1" fill="#111"/>
<text x="1168" y="87.2" font-size="6.4" font-style="italic" font-family="Liberation Sans" text-anchor="middle" fill="#111">F</text>
<text x="1178.6" y="84.1" font-size="6.4" font-style="italic" font-family="Liberation Sans" text-anchor="middle" fill="#111">F</text>
<text x="1166.6" y="98.3" font-size="6.4" font-style="italic" font-family="Liberation Sans" text-anchor="middle" fill="#111">K,G3</text>
<text x="1196.7" y="98.3" font-size="6.4" font-style="italic" font-family="Liberation Sans" text-anchor="middle" fill="#111">A</text>
<text x="1163.5" y="111.2" font-size="6.4" font-style="italic" font-family="Liberation Sans" text-anchor="middle" fill="#111">G1</text>
<text x="1192" y="119.8" font-size="6.4" font-style="italic" font-family="Liberation Sans" text-anchor="middle" fill="#111">G2</text>
<polyline points="164.5,301 164.5,484" fill="none" stroke="#111" stroke-width="1.25"/>
<polyline points="164.5,300.8 212.5,300.8" fill="none" stroke="#111" stroke-width="1.25"/>
<rect x="213.6" y="298.8" width="2.9" height="4" fill="#fff"/>
<polyline points="212.4,294.4 212.4,307.2" fill="none" stroke="#111" stroke-width="2.4"/>
<polyline points="217.8,294.4 217.8,307.2" fill="none" stroke="#111" stroke-width="2.4"/>
<polyline points="217.8,300.8 273.5,300.8" fill="none" stroke="#111" stroke-width="1.25"/>
<circle cx="246.7" cy="300.8" r="2.4" fill="#111"/>
<rect x="273.4" y="297.1" width="14.4" height="7" fill="#fff" stroke="#111" stroke-width="1.1"/>
<polygon points="287.8,297.1 287.8,304.1 273.4,304.1" fill="#111"/>
<polyline points="287.8,300.2 322,300.2" fill="none" stroke="#111" stroke-width="1.25"/>
<polyline points="246.9,300.8 246.9,342.9" fill="none" stroke="#111" stroke-width="1.25"/>
<rect x="243.8" y="318.9" width="6.6" height="15" fill="#fff" stroke="#111" stroke-width="1.1"/>
<polygon points="250.4,318.9 250.4,333.9 243.8,333.9" fill="#111"/>
<polyline points="243.5,342.9 250.5,342.9" fill="none" stroke="#111" stroke-width="1.3"/>
<g transform="translate(335.8,272.8) scale(1,1)"><path d="M0,0 A14,14 0 0 0 -14,14 L-14,38 A14,14 0 0 0 0,52" fill="none" stroke="#111" stroke-width="2.2"/><path d="M0,0 A14,14 0 0 1 14,14 L14,38 A14,14 0 0 1 0,52" fill="none" stroke="#111" stroke-width="1.87" stroke-dasharray="3.4,2.3"/><line x1="-8.3" y1="15.4" x2="9.2" y2="15.4" stroke="#111" stroke-width="1.9"/><line x1="0" y1="0" x2="0" y2="15.4" stroke="#111" stroke-width="1.1"/><line x1="-12.5" y1="25.5" x2="14" y2="25.5" stroke="#111" stroke-width="1.9" stroke-dasharray="3,2.3"/><path d="M-9,46 Q-9.5,38.5 0,38.5 Q6,38.5 9.3,43" fill="none" stroke="#111" stroke-width="2.1"/><path d="M-4.2,62 L-4.2,48.5 A4.9,4.9 0 0 1 5.6,48.5 L5.6,62" fill="none" stroke="#111" stroke-width="1.1"/><polygon points="-5.5,57 -2.9,57 -4.2,61" fill="#111"/><polygon points="4.3,57 6.9,57 5.6,61" fill="#111"/></g>
<polyline points="335.8,221.8 335.8,272.8" fill="none" stroke="#111" stroke-width="1.25"/>
<circle cx="335.8" cy="258.6" r="2.4" fill="#111"/>
<polyline points="335.8,258.6 432.3,258.6" fill="none" stroke="#111" stroke-width="1.25"/>
<rect x="376.7" y="256.6" width="2.6" height="4" fill="#fff"/>
<polyline points="375.5,252.4 375.5,264.9" fill="none" stroke="#111" stroke-width="2.4"/>
<polyline points="380.5,252.4 380.5,264.9" fill="none" stroke="#111" stroke-width="2.4"/>
<circle cx="372.2" cy="254.6" r="1.4" fill="#111"/>
<circle cx="372.2" cy="262.4" r="1.4" fill="#111"/>
<polyline points="335.8,221.3 641,221.3" fill="none" stroke="#111" stroke-width="1.25"/>
<rect x="372.5" y="218.1" width="15" height="7" fill="#fff" stroke="#111" stroke-width="1.1"/>
<polygon points="387.5,218.1 387.5,225.1 372.5,225.1" fill="#111"/>
<circle cx="405.6" cy="221.5" r="2.4" fill="#111"/>
<rect x="422" y="217.8" width="15" height="7" fill="#fff" stroke="#111" stroke-width="1.1"/>
<polygon points="437,217.8 437,224.8 422,224.8" fill="#111"/>
<polyline points="405.6,221.5 408.6,632" fill="none" stroke="#111" stroke-width="1.25"/>
<g transform="translate(501.8,271.4) scale(-1,1)"><path d="M0,0 A14,14 0 0 0 -14,14 L-14,38 A14,14 0 0 0 0,52" fill="none" stroke="#111" stroke-width="2.2"/><path d="M0,0 A14,14 0 0 1 14,14 L14,38 A14,14 0 0 1 0,52" fill="none" stroke="#111" stroke-width="1.87" stroke-dasharray="3.4,2.3"/><line x1="-8.3" y1="15.4" x2="9.2" y2="15.4" stroke="#111" stroke-width="1.9"/><line x1="0" y1="0" x2="0" y2="15.4" stroke="#111" stroke-width="1.1"/><line x1="-12.5" y1="25.5" x2="14" y2="25.5" stroke="#111" stroke-width="1.9" stroke-dasharray="3,2.3"/><path d="M-9,46 Q-9.5,38.5 0,38.5 Q6,38.5 9.3,43" fill="none" stroke="#111" stroke-width="2.1"/><path d="M-4.2,62 L-4.2,48.5 A4.9,4.9 0 0 1 5.6,48.5 L5.6,62" fill="none" stroke="#111" stroke-width="1.1"/><polygon points="-5.5,57 -2.9,57 -4.2,61" fill="#111"/><polygon points="4.3,57 6.9,57 5.6,61" fill="#111"/></g>
<polyline points="501.1,220.8 501.1,271.4" fill="none" stroke="#111" stroke-width="1.25"/>
<circle cx="501.1" cy="220.8" r="2.4" fill="#111"/>
<rect x="533.2" y="218.8" width="2.8" height="4" fill="#fff"/>
<polyline points="532,214.6 532,227.1" fill="none" stroke="#111" stroke-width="2.4"/>
<polyline points="537.2,214.6 537.2,227.1" fill="none" stroke="#111" stroke-width="2.4"/>
<circle cx="527.8" cy="215.8" r="1.4" fill="#111"/>
<circle cx="527.8" cy="225" r="1.4" fill="#111"/>
<circle cx="572.3" cy="220.8" r="2.4" fill="#111"/>
<rect x="598.2" y="216.9" width="15.6" height="7" fill="#fff" stroke="#111" stroke-width="1.1"/>
<polygon points="613.8,216.9 613.8,223.9 598.2,223.9" fill="#111"/>
<polyline points="432.4,258.6 432.4,408" fill="none" stroke="#111" stroke-width="1.25"/>
<circle cx="432.4" cy="298.3" r="2.4" fill="#111"/>
<rect x="429.7" y="317.3" width="6.6" height="15" fill="#fff" stroke="#111" stroke-width="1.1"/>
<polygon points="436.3,317.3 436.3,332.3 429.7,332.3" fill="#111"/>
<circle cx="432.5" cy="358.2" r="2.4" fill="#111"/>
<rect x="429.7" y="382.9" width="6.6" height="15" fill="#fff" stroke="#111" stroke-width="1.1"/>
<polygon points="436.3,382.9 436.3,397.9 429.7,397.9" fill="#111"/>
<polyline points="429.5,408 436.5,408" fill="none" stroke="#111" stroke-width="1.3"/>
<polyline points="432.4,298.3 488,298.3" fill="none" stroke="#111" stroke-width="1.25"/>
<polyline points="511.6,322 511.6,358" fill="none" stroke="#111" stroke-width="1.25"/>
<circle cx="512" cy="358" r="2.4" fill="#111"/>
<polyline points="432.5,357.9 641,357.9" fill="none" stroke="#111" stroke-width="1.25"/>
<rect x="533.1" y="356" width="2.6" height="4" fill="#fff"/>
<polyline points="531.9,351.8 531.9,364.2" fill="none" stroke="#111" stroke-width="2.4"/>
<polyline points="536.9,351.8 536.9,364.2" fill="none" stroke="#111" stroke-width="2.4"/>
<circle cx="529.5" cy="352.6" r="1.4" fill="#111"/>
<circle cx="529.5" cy="362.2" r="1.4" fill="#111"/>
<circle cx="573.3" cy="357.9" r="2.4" fill="#111"/>
<rect x="598.2" y="354.4" width="15.6" height="7" fill="#fff" stroke="#111" stroke-width="1.1"/>
<polygon points="613.8,354.4 613.8,361.4 598.2,361.4" fill="#111"/>
<polyline points="572.9,220.8 572.9,357.9" fill="none" stroke="#111" stroke-width="1.25"/>
<rect x="569.6" y="263.5" width="6.6" height="15" fill="#fff" stroke="#111" stroke-width="1.1"/>
<polygon points="576.2,263.5 576.2,278.5 569.6,278.5" fill="#111"/>
<circle cx="572.9" cy="289.3" r="2.4" fill="#111"/>
<rect x="569.6" y="299.3" width="6.6" height="15" fill="#fff" stroke="#111" stroke-width="1.1"/>
<polygon points="576.2,299.3 576.2,314.3 569.6,314.3" fill="#111"/>
<polyline points="553.1,289.3 572.9,289.3" fill="none" stroke="#111" stroke-width="1.25"/>
<polyline points="553.1,289.3 554.8,700.7" fill="none" stroke="#111" stroke-width="1.25"/>
<polyline points="326.8,322 326.8,433.6" fill="none" stroke="#111" stroke-width="1.25"/>
<circle cx="327.3" cy="359.2" r="2.4" fill="#111"/>
<polyline points="327.3,359.2 381.9,359.2" fill="none" stroke="#111" stroke-width="1.25"/>
<circle cx="351.6" cy="359.2" r="2.4" fill="#111"/>
<polyline points="381.9,359.2 381.9,433" fill="none" stroke="#111" stroke-width="1.25"/>
<rect x="324.1" y="383.9" width="6.6" height="15" fill="#fff" stroke="#111" stroke-width="1.1"/>
<polygon points="330.7,383.9 330.7,398.9 324.1,398.9" fill="#111"/>
<rect x="325.4" y="411.5" width="4" height="2.2" fill="#fdfdfd"/>
<rect x="320.6" y="408.9" width="13.6" height="2.1" fill="#fdfdfd" stroke="#111" stroke-width="0.9"/>
<rect x="320.1" y="413.7" width="14.5" height="1.9" fill="#111"/>
<polyline points="323.8,433.6 330.8,433.6" fill="none" stroke="#111" stroke-width="1.3"/>
<polyline points="322,404.8 326,404.8" fill="none" stroke="#111" stroke-width="1.1"/>
<polyline points="324,402.8 324,406.8" fill="none" stroke="#111" stroke-width="1.1"/>
<rect x="348.3" y="383.7" width="6.6" height="15" fill="#fff" stroke="#111" stroke-width="1.1"/>
<polygon points="354.9,383.7 354.9,398.7 348.3,398.7" fill="#111"/>
<polyline points="351.6,359.2 351.6,433" fill="none" stroke="#111" stroke-width="1.25"/>
<polyline points="351.6,433 382.2,433" fill="none" stroke="#111" stroke-width="1.25"/>
<rect x="379.9" y="410.9" width="4" height="2.1" fill="#fff"/>
<polyline points="375.9,409.8 387.9,409.8" fill="none" stroke="#111" stroke-width="2.4"/>
<polyline points="375.9,414.2 387.9,414.2" fill="none" stroke="#111" stroke-width="2.4"/>
<circle cx="382.2" cy="433" r="2.4" fill="#111"/>
<g transform="translate(656.5,185.7) scale(1,1)"><path d="M0,0 A14.8,14.8 0 0 0 -14.8,14.8 L-14.8,38.1 A14.8,14.8 0 0 0 0,53 M0,0 A14.8,14.8 0 0 1 14.8,14.8 L14.8,38.1 A14.8,14.8 0 0 1 0,53" fill="none" stroke="#111" stroke-width="2.6"/><line x1="-7.6" y1="14.7" x2="8.3" y2="14.7" stroke="#111" stroke-width="1.9"/><line x1="0" y1="0" x2="0" y2="14.7" stroke="#111" stroke-width="1.1"/><line x1="-10" y1="20.6" x2="11" y2="20.6" stroke="#111" stroke-width="1.9" stroke-dasharray="4.4,3"/><polyline points="-7,20.6 -10.9,20.6 -10.9,39.5 -8.7,40.5" fill="none" stroke="#111" stroke-width="1.1"/><line x1="-9.5" y1="26.4" x2="14" y2="26.4" stroke="#111" stroke-width="1.9" stroke-dasharray="3.8,2.8"/><line x1="-14" y1="33.6" x2="11" y2="33.6" stroke="#111" stroke-width="1.9" stroke-dasharray="5.5,0 0,2.6 3.8,2.8"/><path d="M-8.7,44 Q-9,37.3 0,37.3 Q6,37.3 9,41.5" fill="none" stroke="#111" stroke-width="2.1"/><path d="M-3.9,64 L-3.9,47.8 A4.45,4.45 0 0 1 5,47.8 L5,64" fill="none" stroke="#111" stroke-width="1.1"/><polygon points="-5.2,58 -2.6,58 -3.9,62.5" fill="#111"/><polygon points="3.7,58 6.3,58 5,62.5" fill="#111"/></g>
<polyline points="656.1,185.7 656.1,173.4 739.9,173.4 739.9,245.5" fill="none" stroke="#111" stroke-width="1.25"/>
<polyline points="670,212.2 704.5,212.2" fill="none" stroke="#111" stroke-width="1.25"/>
<circle cx="704.8" cy="364.1" r="2.4" fill="#111"/>
<polyline points="647.6,226 647.6,255.8" fill="none" stroke="#111" stroke-width="1.25"/>
<circle cx="647.4" cy="255.8" r="2.4" fill="#111"/>
<polyline points="647.5,255.8 647.5,284" fill="none" stroke="#111" stroke-width="1.25"/>
<rect x="645.5" y="269.9" width="4" height="2.2" fill="#fdfdfd"/>
<rect x="640.7" y="267.3" width="13.6" height="2.1" fill="#fdfdfd" stroke="#111" stroke-width="0.9"/>
<rect x="640.2" y="272.1" width="14.5" height="1.9" fill="#111"/>
<polyline points="644,284 651,284" fill="none" stroke="#111" stroke-width="1.3"/>
<polyline points="644,292.4 651,292.4" fill="none" stroke="#111" stroke-width="1.3"/>
<polyline points="647.5,292.4 647.5,319.4" fill="none" stroke="#111" stroke-width="1.25"/>
<rect x="645.5" y="304.5" width="4" height="2.2" fill="#fdfdfd"/>
<rect x="640.7" y="307.2" width="13.6" height="2.1" fill="#fdfdfd" stroke="#111" stroke-width="0.9"/>
<rect x="640.2" y="302.6" width="14.5" height="1.9" fill="#111"/>
<polyline points="641.2,264.6 645.2,264.6" fill="none" stroke="#111" stroke-width="1.1"/>
<polyline points="643.2,262.6 643.2,266.6" fill="none" stroke="#111" stroke-width="1.1"/>
<polyline points="641.1,313.3 645.1,313.3" fill="none" stroke="#111" stroke-width="1.1"/>
<polyline points="643.1,311.3 643.1,315.3" fill="none" stroke="#111" stroke-width="1.1"/>
<circle cx="647.4" cy="319.4" r="2.4" fill="#111"/>
<polyline points="647.4,255.8 676.6,255.8 676.6,284" fill="none" stroke="#111" stroke-width="1.25"/>
<rect x="673.2" y="263.2" width="6.6" height="15" fill="#fff" stroke="#111" stroke-width="1.1"/>
<polygon points="679.8,263.2 679.8,278.2 673.2,278.2" fill="#111"/>
<polyline points="673.1,284 680.1,284" fill="none" stroke="#111" stroke-width="1.3"/>
<polyline points="676.6,292.4 676.6,319.4 647.4,319.4" fill="none" stroke="#111" stroke-width="1.25"/>
<rect x="673.2" y="298.8" width="6.6" height="15" fill="#fff" stroke="#111" stroke-width="1.1"/>
<polygon points="679.8,298.8 679.8,313.8 673.2,313.8" fill="#111"/>
<polyline points="673.1,292.4 680.1,292.4" fill="none" stroke="#111" stroke-width="1.3"/>
<g transform="translate(657.1,390.8) scale(1,-1)"><path d="M0,0 A14.8,14.8 0 0 0 -14.8,14.8 L-14.8,38.1 A14.8,14.8 0 0 0 0,53 M0,0 A14.8,14.8 0 0 1 14.8,14.8 L14.8,38.1 A14.8,14.8 0 0 1 0,53" fill="none" stroke="#111" stroke-width="2.6"/><line x1="-7.6" y1="14.7" x2="8.3" y2="14.7" stroke="#111" stroke-width="1.9"/><line x1="0" y1="0" x2="0" y2="14.7" stroke="#111" stroke-width="1.1"/><line x1="-10" y1="20.6" x2="11" y2="20.6" stroke="#111" stroke-width="1.9" stroke-dasharray="4.4,3"/><polyline points="-7,20.6 -10.9,20.6 -10.9,39.5 -8.7,40.5" fill="none" stroke="#111" stroke-width="1.1"/><line x1="-9.5" y1="26.4" x2="14" y2="26.4" stroke="#111" stroke-width="1.9" stroke-dasharray="3.8,2.8"/><line x1="-14" y1="33.6" x2="11" y2="33.6" stroke="#111" stroke-width="1.9" stroke-dasharray="5.5,0 0,2.6 3.8,2.8"/><path d="M-8.7,44 Q-9,37.3 0,37.3 Q6,37.3 9,41.5" fill="none" stroke="#111" stroke-width="2.1"/><path d="M-3.9,64 L-3.9,47.8 A4.45,4.45 0 0 1 5,47.8 L5,64" fill="none" stroke="#111" stroke-width="1.1"/><polygon points="-5.2,58 -2.6,58 -3.9,62.5" fill="#111"/><polygon points="3.7,58 6.3,58 5,62.5" fill="#111"/></g>
<polyline points="648,319.4 648,351" fill="none" stroke="#111" stroke-width="1.25"/>
<polyline points="670,364.2 704.5,364.2" fill="none" stroke="#111" stroke-width="1.25"/>
<polyline points="656.6,390.8 656.6,405.5 739.9,405.5 739.9,331" fill="none" stroke="#111" stroke-width="1.25"/>
<rect x="737" y="245.5" width="7.7" height="85.5" fill="#111"/>
<rect x="755.6" y="288" width="7.2" height="43" fill="#111"/>
<polyline points="747.6,245.5 747.6,331 752.4,331 752.4,245.5" fill="none" stroke="#111" stroke-width="1.0"/>
<polyline points="750,331 750,339.3" fill="none" stroke="#111" stroke-width="1.0"/>
<polyline points="747,339.3 753,339.3" fill="none" stroke="#111" stroke-width="1.3"/>
<polyline points="759,288.8 776,288.8" fill="none" stroke="#111" stroke-width="1.25"/>
<polyline points="776,285.3 776,292.3" fill="none" stroke="#111" stroke-width="1.3"/>
<polyline points="758.7,331 758.7,430.6" fill="none" stroke="#111" stroke-width="1.25"/>
<polyline points="722.6,288.8 737,288.8" fill="none" stroke="#111" stroke-width="1.25"/>
<polyline points="722.6,288.8 722.6,470" fill="none" stroke="#111" stroke-width="1.25"/>
<polyline points="800.3,381.7 888.1,381.7" fill="none" stroke="#111" stroke-width="1.25"/>
<text x="208" y="284" font-size="7" font-style="italic" font-weight="normal" font-family="Liberation Sans" fill="#111" style="white-space:pre" textLength="7.5" lengthAdjust="spacingAndGlyphs">C1</text>
<text x="206.5" y="291.5" font-size="7" font-style="italic" font-weight="normal" font-family="Liberation Sans" fill="#111" style="white-space:pre" textLength="18" lengthAdjust="spacingAndGlyphs">22nF</text>
<text x="272.5" y="291.2" font-size="7" font-style="italic" font-weight="normal" font-family="Liberation Sans" fill="#111" style="white-space:pre" textLength="7.5" lengthAdjust="spacingAndGlyphs">R1</text>
<text x="274" y="312.1" font-size="7" font-style="italic" font-weight="normal" font-family="Liberation Sans" fill="#111" style="white-space:pre" textLength="12" lengthAdjust="spacingAndGlyphs">33k</text>
<text x="231.8" y="325.5" font-size="7" font-style="italic" font-weight="normal" font-family="Liberation Sans" fill="#111" style="white-space:pre" textLength="8.2" lengthAdjust="spacingAndGlyphs">R3</text>
<text x="229.4" y="333.3" font-size="7" font-style="italic" font-weight="normal" font-family="Liberation Sans" fill="#111" style="white-space:pre" textLength="9.6" lengthAdjust="spacingAndGlyphs">1M</text>
<text x="336" y="270" font-size="7" font-style="italic" font-weight="normal" font-family="Liberation Sans" fill="#111" style="white-space:pre" textLength="4" lengthAdjust="spacingAndGlyphs">6</text>
<text x="312" y="305.5" font-size="7" font-style="italic" font-weight="normal" font-family="Liberation Sans" fill="#111" style="white-space:pre" textLength="4" lengthAdjust="spacingAndGlyphs">7</text>
<text x="320.5" y="329.5" font-size="7" font-style="italic" font-weight="normal" font-family="Liberation Sans" fill="#111" style="white-space:pre" textLength="4" lengthAdjust="spacingAndGlyphs">8</text>
<text x="376.2" y="214.6" font-size="7" font-style="italic" font-weight="normal" font-family="Liberation Sans" fill="#111" style="white-space:pre" textLength="8.4" lengthAdjust="spacingAndGlyphs">R9</text>
<text x="372.6" y="232.9" font-size="7" font-style="italic" font-weight="normal" font-family="Liberation Sans" fill="#111" style="white-space:pre" textLength="18" lengthAdjust="spacingAndGlyphs">220k</text>
<text x="424.3" y="214.5" font-size="7" font-style="italic" font-weight="normal" font-family="Liberation Sans" fill="#111" style="white-space:pre" textLength="13.3" lengthAdjust="spacingAndGlyphs">R11</text>
<text x="425.5" y="231.7" font-size="7" font-style="italic" font-weight="normal" font-family="Liberation Sans" fill="#111" style="white-space:pre" textLength="12.1" lengthAdjust="spacingAndGlyphs">33k</text>
<text x="387" y="256.3" font-size="7" font-style="italic" font-weight="normal" font-family="Liberation Sans" fill="#111" style="white-space:pre" textLength="8.5" lengthAdjust="spacingAndGlyphs">C7</text>
<text x="385.8" y="264.2" font-size="7" font-style="italic" font-weight="normal" font-family="Liberation Sans" fill="#111" style="white-space:pre" textLength="19.2" lengthAdjust="spacingAndGlyphs">2,2nF</text>
<text x="441.2" y="323.7" font-size="7" font-style="italic" font-weight="normal" font-family="Liberation Sans" fill="#111" style="white-space:pre" textLength="12" lengthAdjust="spacingAndGlyphs">R13</text>
<text x="441" y="332.1" font-size="7" font-style="italic" font-weight="normal" font-family="Liberation Sans" fill="#111" style="white-space:pre" textLength="12" lengthAdjust="spacingAndGlyphs">10M</text>
<text x="442.4" y="390.4" font-size="7" font-style="italic" font-weight="normal" font-family="Liberation Sans" fill="#111" style="white-space:pre" textLength="13.2" lengthAdjust="spacingAndGlyphs">R15</text>
<text x="442.4" y="399" font-size="7" font-style="italic" font-weight="normal" font-family="Liberation Sans" fill="#111" style="white-space:pre" textLength="12" lengthAdjust="spacingAndGlyphs">33k</text>
<text x="307.6" y="391.8" font-size="7" font-style="italic" font-weight="normal" font-family="Liberation Sans" fill="#111" style="white-space:pre" textLength="10.8" lengthAdjust="spacingAndGlyphs">R5</text>
<text x="304.7" y="399.5" font-size="7" font-style="italic" font-weight="normal" font-family="Liberation Sans" fill="#111" style="white-space:pre" textLength="14.9" lengthAdjust="spacingAndGlyphs">270k</text>
<text x="307" y="417.5" font-size="7" font-style="italic" font-weight="normal" font-family="Liberation Sans" fill="#111" style="white-space:pre" textLength="8" lengthAdjust="spacingAndGlyphs">C3</text>
<text x="304" y="424.8" font-size="7" font-style="italic" font-weight="normal" font-family="Liberation Sans" fill="#111" style="white-space:pre" textLength="13.2" lengthAdjust="spacingAndGlyphs">50µF</text>
<text x="302.8" y="433.2" font-size="7" font-style="italic" font-weight="normal" font-family="Liberation Sans" fill="#111" style="white-space:pre" textLength="16.2" lengthAdjust="spacingAndGlyphs">6/8V</text>
<text x="360.5" y="391.8" font-size="7" font-style="italic" font-weight="normal" font-family="Liberation Sans" fill="#111" style="white-space:pre" textLength="9.5" lengthAdjust="spacingAndGlyphs">R7</text>
<text x="358.6" y="399.5" font-size="7" font-style="italic" font-weight="normal" font-family="Liberation Sans" fill="#111" style="white-space:pre" textLength="15.2" lengthAdjust="spacingAndGlyphs">2,2k</text>
<text x="394" y="416.4" font-size="7" font-style="italic" font-weight="normal" font-family="Liberation Sans" fill="#111" style="white-space:pre" textLength="8.7" lengthAdjust="spacingAndGlyphs">C5</text>
<text x="389.4" y="425.5" font-size="7" font-style="italic" font-weight="normal" font-family="Liberation Sans" fill="#111" style="white-space:pre" textLength="15.6" lengthAdjust="spacingAndGlyphs">2,2nF</text>
<text x="329.2" y="343.7" font-size="7" font-style="italic" font-weight="normal" font-family="Liberation Sans" fill="#111" style="white-space:pre" textLength="3" lengthAdjust="spacingAndGlyphs">4</text>
<text x="339.3" y="343.7" font-size="7" font-style="italic" font-weight="normal" font-family="Liberation Sans" fill="#111" style="white-space:pre" textLength="3" lengthAdjust="spacingAndGlyphs">9</text>
<text x="505" y="268.5" font-size="7" font-style="italic" font-weight="normal" font-family="Liberation Sans" fill="#111" style="white-space:pre" textLength="3" lengthAdjust="spacingAndGlyphs">1</text>
<text x="477.5" y="295.4" font-size="7" font-style="italic" font-weight="normal" font-family="Liberation Sans" fill="#111" style="white-space:pre" textLength="3" lengthAdjust="spacingAndGlyphs">2</text>
<text x="515" y="326.2" font-size="7" font-style="italic" font-weight="normal" font-family="Liberation Sans" fill="#111" style="white-space:pre" textLength="3" lengthAdjust="spacingAndGlyphs">3</text>
<text x="495" y="341.8" font-size="7" font-style="italic" font-weight="normal" font-family="Liberation Sans" fill="#111" style="white-space:pre" textLength="3" lengthAdjust="spacingAndGlyphs">9</text>
<text x="505.2" y="341.8" font-size="7" font-style="italic" font-weight="normal" font-family="Liberation Sans" fill="#111" style="white-space:pre" textLength="3" lengthAdjust="spacingAndGlyphs">5</text>
<text x="542.8" y="218.3" font-size="7" font-style="italic" font-weight="normal" font-family="Liberation Sans" fill="#111" style="white-space:pre" textLength="8.4" lengthAdjust="spacingAndGlyphs">C9</text>
<text x="541.6" y="229.5" font-size="7" font-style="italic" font-weight="normal" font-family="Liberation Sans" fill="#111" style="white-space:pre" textLength="17.4" lengthAdjust="spacingAndGlyphs">47nF</text>
<text x="541.6" y="355.8" font-size="7" font-style="italic" font-weight="normal" font-family="Liberation Sans" fill="#111" style="white-space:pre" textLength="9.6" lengthAdjust="spacingAndGlyphs">C11</text>
<text x="533" y="371.9" font-size="7" font-style="italic" font-weight="normal" font-family="Liberation Sans" fill="#111" style="white-space:pre" textLength="17" lengthAdjust="spacingAndGlyphs">47nF</text>
<text x="602.5" y="213" font-size="7" font-style="italic" font-weight="normal" font-family="Liberation Sans" fill="#111" style="white-space:pre" textLength="13" lengthAdjust="spacingAndGlyphs">R21</text>
<text x="600.5" y="232.8" font-size="7" font-style="italic" font-weight="normal" font-family="Liberation Sans" fill="#111" style="white-space:pre" textLength="9.5" lengthAdjust="spacingAndGlyphs">1k</text>
<text x="600.5" y="352.7" font-size="7" font-style="italic" font-weight="normal" font-family="Liberation Sans" fill="#111" style="white-space:pre" textLength="13.3" lengthAdjust="spacingAndGlyphs">R23</text>
<text x="600" y="369.5" font-size="7" font-style="italic" font-weight="normal" font-family="Liberation Sans" fill="#111" style="white-space:pre" textLength="11.4" lengthAdjust="spacingAndGlyphs">15k</text>
<text x="580" y="272" font-size="7" font-style="italic" font-weight="normal" font-family="Liberation Sans" fill="#111" style="white-space:pre" textLength="14.5" lengthAdjust="spacingAndGlyphs">R17</text>
<text x="580" y="280.5" font-size="7" font-style="italic" font-weight="normal" font-family="Liberation Sans" fill="#111" style="white-space:pre" textLength="17" lengthAdjust="spacingAndGlyphs">390k</text>
<text x="580" y="306.5" font-size="7" font-style="italic" font-weight="normal" font-family="Liberation Sans" fill="#111" style="white-space:pre" textLength="14.5" lengthAdjust="spacingAndGlyphs">R19</text>
<text x="580" y="314.5" font-size="7" font-style="italic" font-weight="normal" font-family="Liberation Sans" fill="#111" style="white-space:pre" textLength="19.3" lengthAdjust="spacingAndGlyphs">390k</text>
<text x="650.3" y="179.4" font-size="7" font-style="italic" font-weight="normal" font-family="Liberation Sans" fill="#111" style="white-space:pre" textLength="3" lengthAdjust="spacingAndGlyphs">7</text>
<text x="633.3" y="218.5" font-size="7" font-style="italic" font-weight="normal" font-family="Liberation Sans" fill="#111" style="white-space:pre" textLength="3" lengthAdjust="spacingAndGlyphs">2</text>
<text x="675.5" y="210.3" font-size="7" font-style="italic" font-weight="normal" font-family="Liberation Sans" fill="#111" style="white-space:pre" textLength="3" lengthAdjust="spacingAndGlyphs">9</text>
<text x="640" y="243.1" font-size="7" font-style="italic" font-weight="normal" font-family="Liberation Sans" fill="#111" style="white-space:pre" textLength="3" lengthAdjust="spacingAndGlyphs">3</text>
<text x="653" y="250.5" font-size="7" font-style="italic" font-weight="normal" font-family="Liberation Sans" fill="#111" style="white-space:pre" textLength="3" lengthAdjust="spacingAndGlyphs">4</text>
<text x="664" y="250.5" font-size="7" font-style="italic" font-weight="normal" font-family="Liberation Sans" fill="#111" style="white-space:pre" textLength="3" lengthAdjust="spacingAndGlyphs">5</text>
<text x="625.8" y="272" font-size="7" font-style="italic" font-weight="normal" font-family="Liberation Sans" fill="#111" style="white-space:pre" textLength="10.9" lengthAdjust="spacingAndGlyphs">C13</text>
<text x="619.3" y="280.9" font-size="7" font-style="italic" font-weight="normal" font-family="Liberation Sans" fill="#111" style="white-space:pre" textLength="17.4" lengthAdjust="spacingAndGlyphs">100µF</text>
<text x="619.8" y="288.9" font-size="7" font-style="italic" font-weight="normal" font-family="Liberation Sans" fill="#111" style="white-space:pre" textLength="15.7" lengthAdjust="spacingAndGlyphs">3/4V</text>
<text x="623.4" y="305.7" font-size="7" font-style="italic" font-weight="normal" font-family="Liberation Sans" fill="#111" style="white-space:pre" textLength="10.9" lengthAdjust="spacingAndGlyphs">C15</text>
<text x="618.6" y="314.6" font-size="7" font-style="italic" font-weight="normal" font-family="Liberation Sans" fill="#111" style="white-space:pre" textLength="18.1" lengthAdjust="spacingAndGlyphs">100µF</text>
<text x="620.5" y="322.1" font-size="7" font-style="italic" font-weight="normal" font-family="Liberation Sans" fill="#111" style="white-space:pre" textLength="15" lengthAdjust="spacingAndGlyphs">3/4V</text>
<text x="683.6" y="262.5" font-size="7" font-style="italic" font-weight="normal" font-family="Liberation Sans" fill="#111" style="white-space:pre" textLength="15.7" lengthAdjust="spacingAndGlyphs">R25</text>
<text x="683.6" y="272" font-size="7" font-style="italic" font-weight="normal" font-family="Liberation Sans" fill="#111" style="white-space:pre" textLength="15.7" lengthAdjust="spacingAndGlyphs">50Ω</text>
<text x="684.8" y="306.5" font-size="7" font-style="italic" font-weight="normal" font-family="Liberation Sans" fill="#111" style="white-space:pre" textLength="14.5" lengthAdjust="spacingAndGlyphs">R27</text>
<text x="684.8" y="314.5" font-size="7" font-style="italic" font-weight="normal" font-family="Liberation Sans" fill="#111" style="white-space:pre" textLength="14.5" lengthAdjust="spacingAndGlyphs">50Ω</text>
<text x="640" y="329.8" font-size="7" font-style="italic" font-weight="normal" font-family="Liberation Sans" fill="#111" style="white-space:pre" textLength="3" lengthAdjust="spacingAndGlyphs">3</text>
<text x="651" y="326.2" font-size="7" font-style="italic" font-weight="normal" font-family="Liberation Sans" fill="#111" style="white-space:pre" textLength="3" lengthAdjust="spacingAndGlyphs">4</text>
<text x="660" y="326.2" font-size="7" font-style="italic" font-weight="normal" font-family="Liberation Sans" fill="#111" style="white-space:pre" textLength="3" lengthAdjust="spacingAndGlyphs">5</text>
<text x="651" y="402" font-size="7" font-style="italic" font-weight="normal" font-family="Liberation Sans" fill="#111" style="white-space:pre" textLength="3" lengthAdjust="spacingAndGlyphs">7</text>
<text x="677.3" y="361.8" font-size="7" font-style="italic" font-weight="normal" font-family="Liberation Sans" fill="#111" style="white-space:pre" textLength="3" lengthAdjust="spacingAndGlyphs">9</text>
<text x="630.3" y="355.1" font-size="7" font-style="italic" font-weight="normal" font-family="Liberation Sans" fill="#111" style="white-space:pre" textLength="3" lengthAdjust="spacingAndGlyphs">2</text>
<text x="743.5" y="212.5" font-size="7" font-style="italic" font-weight="normal" font-family="Liberation Sans" fill="#111" style="white-space:pre" textLength="15.7" lengthAdjust="spacingAndGlyphs">blau</text>
<text x="743.5" y="220.3" font-size="7" font-style="italic" font-weight="normal" font-family="Liberation Sans" fill="#111" style="white-space:pre" textLength="40.9" lengthAdjust="spacingAndGlyphs">BLUE/BLEU</text>
<text x="765.7" y="273.7" font-size="7" font-style="italic" font-weight="normal" font-family="Liberation Sans" fill="#111" style="white-space:pre" textLength="28.3" lengthAdjust="spacingAndGlyphs">schwarz</text>
<text x="765.7" y="280.9" font-size="7" font-style="italic" font-weight="normal" font-family="Liberation Sans" fill="#111" style="white-space:pre" textLength="42.8" lengthAdjust="spacingAndGlyphs">BLACK/NOIR</text>
<text x="723.8" y="287" font-size="7" font-style="italic" font-weight="normal" font-family="Liberation Sans" fill="#111" style="white-space:pre" textLength="12.5" lengthAdjust="spacingAndGlyphs">rosa</text>
<text x="723.8" y="294.9" font-size="7" font-style="italic" font-weight="normal" font-family="Liberation Sans" fill="#111" style="white-space:pre" textLength="12.5" lengthAdjust="spacingAndGlyphs">PINK</text>
<text x="723.8" y="303.3" font-size="7" font-style="italic" font-weight="normal" font-family="Liberation Sans" fill="#111" style="white-space:pre" textLength="12.5" lengthAdjust="spacingAndGlyphs">ROSE</text>
<text x="776" y="314.2" font-size="7" font-style="italic" font-weight="normal" font-family="Liberation Sans" fill="#111" style="white-space:pre" textLength="21.7" lengthAdjust="spacingAndGlyphs">ca.5Ω</text>
<text x="743.5" y="347.4" font-size="7" font-style="italic" font-weight="normal" font-family="Liberation Sans" fill="#111" style="white-space:pre" textLength="8.5" lengthAdjust="spacingAndGlyphs">rot</text>
<text x="743.5" y="355.1" font-size="7" font-style="italic" font-weight="normal" font-family="Liberation Sans" fill="#111" style="white-space:pre" textLength="12.1" lengthAdjust="spacingAndGlyphs">RED</text>
<text x="762.8" y="347.4" font-size="7" font-style="italic" font-weight="normal" font-family="Liberation Sans" fill="#111" style="white-space:pre" textLength="14.4" lengthAdjust="spacingAndGlyphs">grün</text>
<text x="762.8" y="355.1" font-size="7" font-style="italic" font-weight="normal" font-family="Liberation Sans" fill="#111" style="white-space:pre" textLength="42.2" lengthAdjust="spacingAndGlyphs">GREEN/VERT</text>
<text x="819.3" y="296.5" font-size="7" font-style="italic" font-weight="normal" font-family="Liberation Sans" fill="#111" style="white-space:pre" textLength="45.7" lengthAdjust="spacingAndGlyphs">linker Kanal</text>
<text x="819.3" y="305.3" font-size="7" font-style="italic" font-weight="normal" font-family="Liberation Sans" fill="#111" style="white-space:pre" textLength="55.4" lengthAdjust="spacingAndGlyphs">LEFT CHANNEL</text>
<text x="820.5" y="313.7" font-size="7" font-style="italic" font-weight="normal" font-family="Liberation Sans" fill="#111" style="white-space:pre" textLength="59" lengthAdjust="spacingAndGlyphs">CANAL GAUCHE</text>
<text x="261.8" y="274.8" font-size="11.7" font-style="italic" font-weight="normal" font-family="Liberation Sans" fill="#111" style="white-space:pre" textLength="57.8" lengthAdjust="spacingAndGlyphs">1/2ECC83'I</text>
<text x="446" y="273.7" font-size="11.7" font-style="italic" font-weight="normal" font-family="Liberation Sans" fill="#111" style="white-space:pre" textLength="46.2" lengthAdjust="spacingAndGlyphs">1/2ECC83I</text>
<text x="677.3" y="188.2" font-size="11.7" font-style="italic" font-weight="normal" font-family="Liberation Sans" fill="#111" style="white-space:pre" textLength="33.7" lengthAdjust="spacingAndGlyphs">EL84I</text>
<text x="600.5" y="390.8" font-size="12.6" font-style="italic" font-weight="normal" font-family="Liberation Sans" fill="#111" style="white-space:pre" textLength="38.5" lengthAdjust="spacingAndGlyphs">EL84II</text>
<text x="746" y="236.9" font-size="9.8" font-style="italic" font-weight="normal" font-family="Liberation Sans" fill="#111" style="white-space:pre" textLength="51.7" lengthAdjust="spacingAndGlyphs">3006-001.02</text>
<path d="M160,485.5 A17.5,17.5 0 1 1 149.6,510.5 L152.5,508 L152.5,496 L149.6,494 A17.5,17.5 0 0 1 160,485.5" fill="none" stroke="#111" stroke-width="1.5"/>
<circle cx="165.1" cy="489.7" r="2.6" fill="#fff" stroke="#111" stroke-width="1.1"/>
<circle cx="176.6" cy="501.8" r="2.6" fill="#fff" stroke="#111" stroke-width="1.1"/>
<circle cx="165.1" cy="513.6" r="2.6" fill="#fff" stroke="#111" stroke-width="1.1"/>
<polyline points="179.2,501.8 198.1,501.8" fill="none" stroke="#111" stroke-width="1.25"/>
<polyline points="198.1,497.6 198.1,506.1" fill="none" stroke="#111" stroke-width="1.5"/>
<polyline points="165.1,516.2 165.1,704" fill="none" stroke="#111" stroke-width="1.25"/>
<text x="126.3" y="476.5" font-size="7" font-style="italic" font-weight="normal" font-family="Liberation Sans" fill="#111" style="white-space:pre" textLength="17.3" lengthAdjust="spacingAndGlyphs">links</text>
<text x="112.5" y="485.5" font-size="7" font-style="italic" font-weight="normal" font-family="Liberation Sans" fill="#111" style="white-space:pre" textLength="46.8" lengthAdjust="spacingAndGlyphs">LEFT/GAUCHE</text>
<text x="78" y="494.5" font-size="7" font-style="italic" font-weight="normal" font-family="Liberation Sans" fill="#111" style="white-space:pre" textLength="28" lengthAdjust="spacingAndGlyphs">Eingang</text>
<text x="78" y="502.9" font-size="7" font-style="italic" font-weight="normal" font-family="Liberation Sans" fill="#111" style="white-space:pre" textLength="19.6" lengthAdjust="spacingAndGlyphs">INPUT</text>
<text x="109" y="502.9" font-size="7" font-style="italic" font-weight="normal" font-family="Liberation Sans" fill="#111" style="white-space:pre" textLength="40.3" lengthAdjust="spacingAndGlyphs">max ca.1V~</text>
<text x="77" y="511.5" font-size="7" font-style="italic" font-weight="normal" font-family="Liberation Sans" fill="#111" style="white-space:pre" textLength="24" lengthAdjust="spacingAndGlyphs">ENTREE</text>
<text x="125.7" y="528.5" font-size="7" font-style="italic" font-weight="normal" font-family="Liberation Sans" fill="#111" style="white-space:pre" textLength="22.2" lengthAdjust="spacingAndGlyphs">rechts</text>
<text x="118.3" y="536.7" font-size="7" font-style="italic" font-weight="normal" font-family="Liberation Sans" fill="#111" style="white-space:pre" textLength="43.9" lengthAdjust="spacingAndGlyphs">RIGHT/DROIT</text>
<text x="157" y="493.5" font-size="7" font-style="italic" font-weight="normal" font-family="Liberation Sans" fill="#111" style="white-space:pre" textLength="3" lengthAdjust="spacingAndGlyphs">3</text>
<text x="168.5" y="503" font-size="7" font-style="italic" font-weight="normal" font-family="Liberation Sans" fill="#111" style="white-space:pre" textLength="3" lengthAdjust="spacingAndGlyphs">2</text>
<text x="160" y="510" font-size="7" font-style="italic" font-weight="normal" font-family="Liberation Sans" fill="#111" style="white-space:pre" textLength="3" lengthAdjust="spacingAndGlyphs">1</text>
<polyline points="165.1,704 214,704" fill="none" stroke="#111" stroke-width="1.25"/>
<rect x="215.2" y="702" width="3.1" height="4" fill="#fff"/>
<polyline points="214.1,697.5 214.1,710.5" fill="none" stroke="#111" stroke-width="2.4"/>
<polyline points="219.6,697.5 219.6,710.5" fill="none" stroke="#111" stroke-width="2.4"/>
<polyline points="219.5,704 276,704" fill="none" stroke="#111" stroke-width="1.25"/>
<circle cx="249.3" cy="704" r="2.4" fill="#111"/>
<rect x="275.7" y="700.1" width="15" height="7" fill="#fff" stroke="#111" stroke-width="1.1"/>
<polygon points="290.7,700.1 290.7,707.1 275.7,707.1" fill="#111"/>
<polyline points="290.7,703.4 324,703.4" fill="none" stroke="#111" stroke-width="1.25"/>
<polyline points="249.3,704 249.3,754" fill="none" stroke="#111" stroke-width="1.25"/>
<rect x="246.2" y="729.1" width="6.6" height="15" fill="#fff" stroke="#111" stroke-width="1.1"/>
<polygon points="252.8,729.1 252.8,744.1 246.2,744.1" fill="#111"/>
<polyline points="246,754 253,754" fill="none" stroke="#111" stroke-width="1.3"/>
<g transform="translate(338.5,676.2) scale(1,1)"><path d="M0,0 A14,14 0 0 0 -14,14 L-14,38 A14,14 0 0 0 0,52" fill="none" stroke="#111" stroke-width="2.2"/><path d="M0,0 A14,14 0 0 1 14,14 L14,38 A14,14 0 0 1 0,52" fill="none" stroke="#111" stroke-width="1.87" stroke-dasharray="3.4,2.3"/><line x1="-8.3" y1="15.4" x2="9.2" y2="15.4" stroke="#111" stroke-width="1.9"/><line x1="0" y1="0" x2="0" y2="15.4" stroke="#111" stroke-width="1.1"/><line x1="-12.5" y1="25.5" x2="14" y2="25.5" stroke="#111" stroke-width="1.9" stroke-dasharray="3,2.3"/><path d="M-9,46 Q-9.5,38.5 0,38.5 Q6,38.5 9.3,43" fill="none" stroke="#111" stroke-width="2.1"/><path d="M-4.2,62 L-4.2,48.5 A4.9,4.9 0 0 1 5.6,48.5 L5.6,62" fill="none" stroke="#111" stroke-width="1.1"/><polygon points="-5.5,57 -2.9,57 -4.2,61" fill="#111"/><polygon points="4.3,57 6.9,57 5.6,61" fill="#111"/></g>
<polyline points="338.4,632 338.4,676.2" fill="none" stroke="#111" stroke-width="1.25"/>
<circle cx="338.4" cy="652.2" r="2.4" fill="#111"/>
<polyline points="338.4,632 426,632" fill="none" stroke="#111" stroke-width="1.25"/>
<rect x="375" y="628.5" width="15.6" height="7" fill="#fff" stroke="#111" stroke-width="1.1"/>
<polygon points="390.6,628.5 390.6,635.5 375,635.5" fill="#111"/>
<circle cx="408.7" cy="632" r="2.4" fill="#111"/>
<rect x="425.5" y="628.1" width="16.4" height="7" fill="#fff" stroke="#111" stroke-width="1.1"/>
<polygon points="441.9,628.1 441.9,635.1 425.5,635.1" fill="#111"/>
<polyline points="441.9,631.4 641.5,631.4" fill="none" stroke="#111" stroke-width="1.25"/>
<polyline points="338.4,652.2 408.7,652.2" fill="none" stroke="#111" stroke-width="1.25"/>
<rect x="380.9" y="650.2" width="2.9" height="4" fill="#fff"/>
<polyline points="379.8,646 379.8,658.5" fill="none" stroke="#111" stroke-width="2.4"/>
<polyline points="385,646 385,658.5" fill="none" stroke="#111" stroke-width="2.4"/>
<circle cx="375" cy="647" r="1.4" fill="#111"/>
<circle cx="375" cy="657.3" r="1.4" fill="#111"/>
<polyline points="408.7,652.2 408.7,812.3" fill="none" stroke="#111" stroke-width="1.25"/>
<circle cx="408.7" cy="701.6" r="2.4" fill="#111"/>
<rect x="405.6" y="726.7" width="6.6" height="15" fill="#fff" stroke="#111" stroke-width="1.1"/>
<polygon points="412.2,726.7 412.2,741.7 405.6,741.7" fill="#111"/>
<circle cx="408.7" cy="772" r="2.4" fill="#111"/>
<rect x="405.6" y="786.9" width="6.6" height="15" fill="#fff" stroke="#111" stroke-width="1.1"/>
<polygon points="412.2,786.9 412.2,801.9 405.6,801.9" fill="#111"/>
<polyline points="405.4,812.3 412.4,812.3" fill="none" stroke="#111" stroke-width="1.3"/>
<polyline points="408.7,701.8 491,701.8" fill="none" stroke="#111" stroke-width="1.25"/>
<polyline points="408.7,771 641.5,771" fill="none" stroke="#111" stroke-width="1.25"/>
<g transform="translate(504.3,675.1) scale(-1,1)"><path d="M0,0 A14,14 0 0 0 -14,14 L-14,38 A14,14 0 0 0 0,52" fill="none" stroke="#111" stroke-width="2.2"/><path d="M0,0 A14,14 0 0 1 14,14 L14,38 A14,14 0 0 1 0,52" fill="none" stroke="#111" stroke-width="1.87" stroke-dasharray="3.4,2.3"/><line x1="-8.3" y1="15.4" x2="9.2" y2="15.4" stroke="#111" stroke-width="1.9"/><line x1="0" y1="0" x2="0" y2="15.4" stroke="#111" stroke-width="1.1"/><line x1="-12.5" y1="25.5" x2="14" y2="25.5" stroke="#111" stroke-width="1.9" stroke-dasharray="3,2.3"/><path d="M-9,46 Q-9.5,38.5 0,38.5 Q6,38.5 9.3,43" fill="none" stroke="#111" stroke-width="2.1"/><path d="M-4.2,62 L-4.2,48.5 A4.9,4.9 0 0 1 5.6,48.5 L5.6,62" fill="none" stroke="#111" stroke-width="1.1"/><polygon points="-5.5,57 -2.9,57 -4.2,61" fill="#111"/><polygon points="4.3,57 6.9,57 5.6,61" fill="#111"/></g>
<polyline points="503,631.4 503,675.1" fill="none" stroke="#111" stroke-width="1.25"/>
<circle cx="503" cy="631.4" r="2.4" fill="#111"/>
<polyline points="513.9,722 513.9,770.5" fill="none" stroke="#111" stroke-width="1.25"/>
<circle cx="513.9" cy="770.5" r="2.4" fill="#111"/>
<rect x="536.8" y="629.4" width="2.4" height="4" fill="#fff"/>
<polyline points="535.6,625.1 535.6,637.6" fill="none" stroke="#111" stroke-width="2.4"/>
<polyline points="540.4,625.1 540.4,637.6" fill="none" stroke="#111" stroke-width="2.4"/>
<circle cx="530.3" cy="624.9" r="1.4" fill="#111"/>
<circle cx="530.3" cy="634.5" r="1.4" fill="#111"/>
<circle cx="575.3" cy="631.4" r="2.4" fill="#111"/>
<rect x="601" y="627.7" width="16" height="7" fill="#fff" stroke="#111" stroke-width="1.1"/>
<polygon points="617,627.7 617,634.7 601,634.7" fill="#111"/>
<rect x="536.8" y="768.8" width="2.4" height="4" fill="#fff"/>
<polyline points="535.6,764.5 535.6,777" fill="none" stroke="#111" stroke-width="2.4"/>
<polyline points="540.4,764.5 540.4,777" fill="none" stroke="#111" stroke-width="2.4"/>
<circle cx="530.7" cy="766.2" r="1.4" fill="#111"/>
<circle cx="530.7" cy="775.8" r="1.4" fill="#111"/>
<circle cx="576.3" cy="770.8" r="2.4" fill="#111"/>
<rect x="601.8" y="767.3" width="16" height="7" fill="#fff" stroke="#111" stroke-width="1.1"/>
<polygon points="617.8,767.3 617.8,774.3 601.8,774.3" fill="#111"/>
<polyline points="576,631.4 576,770.8" fill="none" stroke="#111" stroke-width="1.25"/>
<rect x="572.7" y="660.2" width="6.6" height="15" fill="#fff" stroke="#111" stroke-width="1.1"/>
<polygon points="579.3,660.2 579.3,675.2 572.7,675.2" fill="#111"/>
<circle cx="576" cy="700.7" r="2.4" fill="#111"/>
<rect x="572.7" y="725.6" width="6.6" height="15" fill="#fff" stroke="#111" stroke-width="1.1"/>
<polygon points="579.3,725.6 579.3,740.6 572.7,740.6" fill="#111"/>
<polyline points="554.8,700.7 576,700.7" fill="none" stroke="#111" stroke-width="1.25"/>
<polyline points="329.7,726 329.7,813" fill="none" stroke="#111" stroke-width="1.25"/>
<circle cx="329.7" cy="752.4" r="2.4" fill="#111"/>
<polyline points="329.7,752.4 384.1,752.4" fill="none" stroke="#111" stroke-width="1.25"/>
<circle cx="353.8" cy="752.4" r="2.4" fill="#111"/>
<rect x="326.6" y="763.4" width="6.6" height="15" fill="#fff" stroke="#111" stroke-width="1.1"/>
<polygon points="333.2,763.4 333.2,778.4 326.6,778.4" fill="#111"/>
<rect x="327.9" y="794.1" width="4" height="2.2" fill="#fdfdfd"/>
<rect x="323.1" y="791.6" width="13.6" height="2.1" fill="#fdfdfd" stroke="#111" stroke-width="0.9"/>
<rect x="322.6" y="796.3" width="14.5" height="1.9" fill="#111"/>
<polyline points="326.4,813 333.4,813" fill="none" stroke="#111" stroke-width="1.3"/>
<polyline points="325.4,787.5 329.4,787.5" fill="none" stroke="#111" stroke-width="1.1"/>
<polyline points="327.4,785.5 327.4,789.5" fill="none" stroke="#111" stroke-width="1.1"/>
<rect x="350.6" y="763.3" width="6.6" height="15" fill="#fff" stroke="#111" stroke-width="1.1"/>
<polygon points="357.2,763.3 357.2,778.3 350.6,778.3" fill="#111"/>
<polyline points="353.8,752.4 353.8,833" fill="none" stroke="#111" stroke-width="1.25"/>
<polyline points="353.8,833 384.4,833" fill="none" stroke="#111" stroke-width="1.25"/>
<polyline points="384.1,752.4 384.1,833" fill="none" stroke="#111" stroke-width="1.25"/>
<rect x="382.1" y="768.6" width="4" height="2.2" fill="#fff"/>
<polyline points="378.1,767.4 390.1,767.4" fill="none" stroke="#111" stroke-width="2.4"/>
<polyline points="378.1,772 390.1,772" fill="none" stroke="#111" stroke-width="2.4"/>
<circle cx="384.4" cy="833" r="2.4" fill="#111"/>
<polyline points="384.4,832.5 596.7,832.2" fill="none" stroke="#111" stroke-width="1.25"/>
<path d="M596.7,832 a4.5,4.5 0 0 1 9,0 a4.5,4.5 0 0 1 9,0 a4.5,4.5 0 0 1 9,0 a4.5,4.5 0 0 1 9,0" fill="none" stroke="#111" stroke-width="1.2"/>
<polyline points="632.7,832 778.3,832 778.3,443 1166.5,443" fill="none" stroke="#111" stroke-width="1.25"/>
<path d="M591.4,431.6 a4.86,4.86 0 0 1 9.72,0 a4.86,4.86 0 0 1 9.72,0 a4.86,4.86 0 0 1 9.72,0 a4.86,4.86 0 0 1 9.72,0" fill="none" stroke="#111" stroke-width="1.2"/>
<polyline points="382.2,433 591.4,431.6" fill="none" stroke="#111" stroke-width="1.25"/>
<polyline points="630.3,431.6 1222.4,431.2 1222.4,478.8 1188.4,478.8" fill="none" stroke="#111" stroke-width="1.25"/>
<circle cx="759" cy="430.6" r="2.4" fill="#111"/>
<g transform="translate(657.1,598.3) scale(1,1)"><path d="M0,0 A14.8,14.8 0 0 0 -14.8,14.8 L-14.8,38.1 A14.8,14.8 0 0 0 0,53 M0,0 A14.8,14.8 0 0 1 14.8,14.8 L14.8,38.1 A14.8,14.8 0 0 1 0,53" fill="none" stroke="#111" stroke-width="2.6"/><line x1="-7.6" y1="14.7" x2="8.3" y2="14.7" stroke="#111" stroke-width="1.9"/><line x1="0" y1="0" x2="0" y2="14.7" stroke="#111" stroke-width="1.1"/><line x1="-10" y1="20.6" x2="11" y2="20.6" stroke="#111" stroke-width="1.9" stroke-dasharray="4.4,3"/><polyline points="-7,20.6 -10.9,20.6 -10.9,39.5 -8.7,40.5" fill="none" stroke="#111" stroke-width="1.1"/><line x1="-9.5" y1="26.4" x2="14" y2="26.4" stroke="#111" stroke-width="1.9" stroke-dasharray="3.8,2.8"/><line x1="-14" y1="33.6" x2="11" y2="33.6" stroke="#111" stroke-width="1.9" stroke-dasharray="5.5,0 0,2.6 3.8,2.8"/><path d="M-8.7,44 Q-9,37.3 0,37.3 Q6,37.3 9,41.5" fill="none" stroke="#111" stroke-width="2.1"/><path d="M-3.9,64 L-3.9,47.8 A4.45,4.45 0 0 1 5,47.8 L5,64" fill="none" stroke="#111" stroke-width="1.1"/><polygon points="-5.2,58 -2.6,58 -3.9,62.5" fill="#111"/><polygon points="3.7,58 6.3,58 5,62.5" fill="#111"/></g>
<polyline points="658.3,598.3 658.3,581.8 741.8,581.8 741.8,658.2" fill="none" stroke="#111" stroke-width="1.25"/>
<polyline points="671.5,623.2 705.7,623.2" fill="none" stroke="#111" stroke-width="1.25"/>
<polyline points="648.7,638 648.7,733.2" fill="none" stroke="#111" stroke-width="1.25"/>
<circle cx="648.7" cy="666.8" r="2.4" fill="#111"/>
<rect x="646.7" y="679.4" width="4" height="2.2" fill="#fdfdfd"/>
<rect x="641.9" y="676.9" width="13.6" height="2.1" fill="#fdfdfd" stroke="#111" stroke-width="0.9"/>
<rect x="641.5" y="681.6" width="14.5" height="1.9" fill="#111"/>
<polyline points="645.2,694 652.2,694" fill="none" stroke="#111" stroke-width="1.3"/>
<polyline points="645.2,706 652.2,706" fill="none" stroke="#111" stroke-width="1.3"/>
<rect x="646.7" y="717.5" width="4" height="2.2" fill="#fdfdfd"/>
<rect x="641.9" y="720.2" width="13.6" height="2.1" fill="#fdfdfd" stroke="#111" stroke-width="0.9"/>
<rect x="641.5" y="715.6" width="14.5" height="1.9" fill="#111"/>
<polyline points="648.7,694 648.7,706" fill="none" stroke="#111" stroke-width="0.01"/>
<rect x="646" y="694.8" width="6" height="10.4" fill="#fdfdfd"/>
<polyline points="641.4,672.6 645.4,672.6" fill="none" stroke="#111" stroke-width="1.1"/>
<polyline points="643.4,670.6 643.4,674.6" fill="none" stroke="#111" stroke-width="1.1"/>
<polyline points="643,728.6 647,728.6" fill="none" stroke="#111" stroke-width="1.1"/>
<polyline points="645,726.6 645,730.6" fill="none" stroke="#111" stroke-width="1.1"/>
<circle cx="648.7" cy="733.2" r="2.4" fill="#111"/>
<polyline points="648.7,666.8 677,666.8 677,695.2" fill="none" stroke="#111" stroke-width="1.25"/>
<rect x="673.7" y="673.8" width="6.6" height="15" fill="#fff" stroke="#111" stroke-width="1.1"/>
<polygon points="680.3,673.8 680.3,688.8 673.7,688.8" fill="#111"/>
<polyline points="673.5,695.2 680.5,695.2" fill="none" stroke="#111" stroke-width="1.3"/>
<polyline points="677,704.8 677,733.5 648.7,733.5" fill="none" stroke="#111" stroke-width="1.25"/>
<rect x="673.7" y="712.4" width="6.6" height="15" fill="#fff" stroke="#111" stroke-width="1.1"/>
<polygon points="680.3,712.4 680.3,727.4 673.7,727.4" fill="#111"/>
<polyline points="673.5,704.8 680.5,704.8" fill="none" stroke="#111" stroke-width="1.3"/>
<g transform="translate(658.3,803.5) scale(1,-1)"><path d="M0,0 A14.8,14.8 0 0 0 -14.8,14.8 L-14.8,38.1 A14.8,14.8 0 0 0 0,53 M0,0 A14.8,14.8 0 0 1 14.8,14.8 L14.8,38.1 A14.8,14.8 0 0 1 0,53" fill="none" stroke="#111" stroke-width="2.6"/><line x1="-7.6" y1="14.7" x2="8.3" y2="14.7" stroke="#111" stroke-width="1.9"/><line x1="0" y1="0" x2="0" y2="14.7" stroke="#111" stroke-width="1.1"/><line x1="-10" y1="20.6" x2="11" y2="20.6" stroke="#111" stroke-width="1.9" stroke-dasharray="4.4,3"/><polyline points="-7,20.6 -10.9,20.6 -10.9,39.5 -8.7,40.5" fill="none" stroke="#111" stroke-width="1.1"/><line x1="-9.5" y1="26.4" x2="14" y2="26.4" stroke="#111" stroke-width="1.9" stroke-dasharray="3.8,2.8"/><line x1="-14" y1="33.6" x2="11" y2="33.6" stroke="#111" stroke-width="1.9" stroke-dasharray="5.5,0 0,2.6 3.8,2.8"/><path d="M-8.7,44 Q-9,37.3 0,37.3 Q6,37.3 9,41.5" fill="none" stroke="#111" stroke-width="2.1"/><path d="M-3.9,64 L-3.9,47.8 A4.45,4.45 0 0 1 5,47.8 L5,64" fill="none" stroke="#111" stroke-width="1.1"/><polygon points="-5.2,58 -2.6,58 -3.9,62.5" fill="#111"/><polygon points="3.7,58 6.3,58 5,62.5" fill="#111"/></g>
<polyline points="658.3,803.5 658.3,816.2 742.3,816.2 742.3,741.8" fill="none" stroke="#111" stroke-width="1.25"/>
<polyline points="672.5,776.2 705.7,776.2" fill="none" stroke="#111" stroke-width="1.25"/>
<polyline points="704.5,212.2 705.7,776.2" fill="none" stroke="#111" stroke-width="1.25"/>
<circle cx="705" cy="458.7" r="2.4" fill="#111"/>
<circle cx="705.2" cy="553.9" r="2.4" fill="#111"/>
<circle cx="705.4" cy="623.8" r="2.4" fill="#111"/>
<rect x="737.5" y="658.2" width="8.5" height="83.6" fill="#111"/>
<rect x="756.3" y="699.6" width="7.2" height="42.2" fill="#111"/>
<polyline points="748.6,658.2 748.6,744 752.7,744 752.7,658.2" fill="none" stroke="#111" stroke-width="1.0"/>
<polyline points="750.6,744 750.6,752.1" fill="none" stroke="#111" stroke-width="1.0"/>
<polyline points="747.6,752.1 753.6,752.1" fill="none" stroke="#111" stroke-width="1.3"/>
<polyline points="760,700.2 773.1,700.2" fill="none" stroke="#111" stroke-width="1.25"/>
<polyline points="773.1,696.7 773.1,703.7" fill="none" stroke="#111" stroke-width="1.3"/>
<polyline points="763.5,741.8 778.4,741.8" fill="none" stroke="#111" stroke-width="1.25"/>
<circle cx="778.4" cy="741.8" r="2.4" fill="#111"/>
<polyline points="722.6,288.8 722.6,698.4 738,698.4" fill="none" stroke="#111" stroke-width="1.25"/>
<circle cx="722.4" cy="531.6" r="2.4" fill="#111"/>
<text x="200.5" y="701.2" font-size="7" font-style="italic" font-weight="normal" font-family="Liberation Sans" fill="#111" style="white-space:pre" textLength="10.8" lengthAdjust="spacingAndGlyphs">C2</text>
<text x="195.6" y="713.2" font-size="7" font-style="italic" font-weight="normal" font-family="Liberation Sans" fill="#111" style="white-space:pre" textLength="15.7" lengthAdjust="spacingAndGlyphs">22nF</text>
<text x="280" y="697.1" font-size="7" font-style="italic" font-weight="normal" font-family="Liberation Sans" fill="#111" style="white-space:pre" textLength="10.7" lengthAdjust="spacingAndGlyphs">R2</text>
<text x="277.5" y="715.2" font-size="7" font-style="italic" font-weight="normal" font-family="Liberation Sans" fill="#111" style="white-space:pre" textLength="12.8" lengthAdjust="spacingAndGlyphs">33k</text>
<text x="259.4" y="736.1" font-size="7" font-style="italic" font-weight="normal" font-family="Liberation Sans" fill="#111" style="white-space:pre" textLength="10.9" lengthAdjust="spacingAndGlyphs">R4</text>
<text x="259.4" y="745.7" font-size="7" font-style="italic" font-weight="normal" font-family="Liberation Sans" fill="#111" style="white-space:pre" textLength="10.9" lengthAdjust="spacingAndGlyphs">1M</text>
<text x="373.8" y="623" font-size="7" font-style="italic" font-weight="normal" font-family="Liberation Sans" fill="#111" style="white-space:pre" textLength="33.7" lengthAdjust="spacingAndGlyphs">R10/220k</text>
<text x="431.6" y="623" font-size="7" font-style="italic" font-weight="normal" font-family="Liberation Sans" fill="#111" style="white-space:pre" textLength="12" lengthAdjust="spacingAndGlyphs">R12</text>
<text x="426.8" y="643.4" font-size="7" font-style="italic" font-weight="normal" font-family="Liberation Sans" fill="#111" style="white-space:pre" textLength="13.2" lengthAdjust="spacingAndGlyphs">33k</text>
<text x="393" y="649.5" font-size="7" font-style="italic" font-weight="normal" font-family="Liberation Sans" fill="#111" style="white-space:pre" textLength="9.7" lengthAdjust="spacingAndGlyphs">C8</text>
<text x="390.6" y="660.3" font-size="7" font-style="italic" font-weight="normal" font-family="Liberation Sans" fill="#111" style="white-space:pre" textLength="16.9" lengthAdjust="spacingAndGlyphs">2,2nF</text>
<text x="417.1" y="735.4" font-size="7" font-style="italic" font-weight="normal" font-family="Liberation Sans" fill="#111" style="white-space:pre" textLength="13.3" lengthAdjust="spacingAndGlyphs">R14</text>
<text x="417.1" y="744.5" font-size="7" font-style="italic" font-weight="normal" font-family="Liberation Sans" fill="#111" style="white-space:pre" textLength="14.5" lengthAdjust="spacingAndGlyphs">10M</text>
<text x="417.1" y="794.4" font-size="7" font-style="italic" font-weight="normal" font-family="Liberation Sans" fill="#111" style="white-space:pre" textLength="14.5" lengthAdjust="spacingAndGlyphs">R16</text>
<text x="417.1" y="802.8" font-size="7" font-style="italic" font-weight="normal" font-family="Liberation Sans" fill="#111" style="white-space:pre" textLength="13.3" lengthAdjust="spacingAndGlyphs">33k</text>
<text x="316" y="769.8" font-size="7" font-style="italic" font-weight="normal" font-family="Liberation Sans" fill="#111" style="white-space:pre" textLength="8.4" lengthAdjust="spacingAndGlyphs">R6</text>
<text x="306.4" y="779.4" font-size="7" font-style="italic" font-weight="normal" font-family="Liberation Sans" fill="#111" style="white-space:pre" textLength="18" lengthAdjust="spacingAndGlyphs">270Ω</text>
<text x="310" y="797" font-size="7" font-style="italic" font-weight="normal" font-family="Liberation Sans" fill="#111" style="white-space:pre" textLength="8.4" lengthAdjust="spacingAndGlyphs">C4</text>
<text x="304" y="804.7" font-size="7" font-style="italic" font-weight="normal" font-family="Liberation Sans" fill="#111" style="white-space:pre" textLength="16.8" lengthAdjust="spacingAndGlyphs">50µF</text>
<text x="301.6" y="812.7" font-size="7" font-style="italic" font-weight="normal" font-family="Liberation Sans" fill="#111" style="white-space:pre" textLength="18" lengthAdjust="spacingAndGlyphs">6/8V</text>
<text x="361" y="769.8" font-size="7" font-style="italic" font-weight="normal" font-family="Liberation Sans" fill="#111" style="white-space:pre" textLength="9.2" lengthAdjust="spacingAndGlyphs">R8</text>
<text x="359.3" y="779" font-size="7" font-style="italic" font-weight="normal" font-family="Liberation Sans" fill="#111" style="white-space:pre" textLength="15.2" lengthAdjust="spacingAndGlyphs">2,2k</text>
<text x="394.3" y="769.8" font-size="7" font-style="italic" font-weight="normal" font-family="Liberation Sans" fill="#111" style="white-space:pre" textLength="9.6" lengthAdjust="spacingAndGlyphs">C6</text>
<text x="390.6" y="780.6" font-size="7" font-style="italic" font-weight="normal" font-family="Liberation Sans" fill="#111" style="white-space:pre" textLength="15.7" lengthAdjust="spacingAndGlyphs">2,2nF</text>
<text x="342.3" y="674.2" font-size="7" font-style="italic" font-weight="normal" font-family="Liberation Sans" fill="#111" style="white-space:pre" textLength="3" lengthAdjust="spacingAndGlyphs">6</text>
<text x="315.2" y="701.2" font-size="7" font-style="italic" font-weight="normal" font-family="Liberation Sans" fill="#111" style="white-space:pre" textLength="3" lengthAdjust="spacingAndGlyphs">7</text>
<text x="322.5" y="732.5" font-size="7" font-style="italic" font-weight="normal" font-family="Liberation Sans" fill="#111" style="white-space:pre" textLength="3" lengthAdjust="spacingAndGlyphs">8</text>
<text x="329.7" y="746.9" font-size="7" font-style="italic" font-weight="normal" font-family="Liberation Sans" fill="#111" style="white-space:pre" textLength="3" lengthAdjust="spacingAndGlyphs">4</text>
<text x="341" y="746.9" font-size="7" font-style="italic" font-weight="normal" font-family="Liberation Sans" fill="#111" style="white-space:pre" textLength="3" lengthAdjust="spacingAndGlyphs">9</text>
<text x="513.9" y="627.4" font-size="7" font-style="italic" font-weight="normal" font-family="Liberation Sans" fill="#111" style="white-space:pre" textLength="12" lengthAdjust="spacingAndGlyphs">C10</text>
<text x="512.2" y="638.7" font-size="7" font-style="italic" font-weight="normal" font-family="Liberation Sans" fill="#111" style="white-space:pre" textLength="16.1" lengthAdjust="spacingAndGlyphs">47nF</text>
<text x="505.2" y="670" font-size="7" font-style="italic" font-weight="normal" font-family="Liberation Sans" fill="#111" style="white-space:pre" textLength="3" lengthAdjust="spacingAndGlyphs">1</text>
<text x="481.6" y="699.4" font-size="7" font-style="italic" font-weight="normal" font-family="Liberation Sans" fill="#111" style="white-space:pre" textLength="3" lengthAdjust="spacingAndGlyphs">2</text>
<text x="516.7" y="729.5" font-size="7" font-style="italic" font-weight="normal" font-family="Liberation Sans" fill="#111" style="white-space:pre" textLength="3" lengthAdjust="spacingAndGlyphs">3</text>
<text x="496.7" y="744.6" font-size="7" font-style="italic" font-weight="normal" font-family="Liberation Sans" fill="#111" style="white-space:pre" textLength="3" lengthAdjust="spacingAndGlyphs">9</text>
<text x="507.5" y="744.6" font-size="7" font-style="italic" font-weight="normal" font-family="Liberation Sans" fill="#111" style="white-space:pre" textLength="3" lengthAdjust="spacingAndGlyphs">5</text>
<text x="583.7" y="667.6" font-size="7" font-style="italic" font-weight="normal" font-family="Liberation Sans" fill="#111" style="white-space:pre" textLength="13.3" lengthAdjust="spacingAndGlyphs">R18</text>
<text x="582.5" y="676" font-size="7" font-style="italic" font-weight="normal" font-family="Liberation Sans" fill="#111" style="white-space:pre" textLength="18" lengthAdjust="spacingAndGlyphs">390k</text>
<text x="584.9" y="734.3" font-size="7" font-style="italic" font-weight="normal" font-family="Liberation Sans" fill="#111" style="white-space:pre" textLength="14.4" lengthAdjust="spacingAndGlyphs">R20</text>
<text x="584.4" y="742.2" font-size="7" font-style="italic" font-weight="normal" font-family="Liberation Sans" fill="#111" style="white-space:pre" textLength="16.6" lengthAdjust="spacingAndGlyphs">390k</text>
<text x="601.8" y="624.3" font-size="7" font-style="italic" font-weight="normal" font-family="Liberation Sans" fill="#111" style="white-space:pre" textLength="13.2" lengthAdjust="spacingAndGlyphs">R22</text>
<text x="603" y="642.3" font-size="7" font-style="italic" font-weight="normal" font-family="Liberation Sans" fill="#111" style="white-space:pre" textLength="8.4" lengthAdjust="spacingAndGlyphs">1k</text>
<text x="605.2" y="759.2" font-size="7" font-style="italic" font-weight="normal" font-family="Liberation Sans" fill="#111" style="white-space:pre" textLength="14.4" lengthAdjust="spacingAndGlyphs">R24</text>
<text x="605.2" y="766.7" font-size="7" font-style="italic" font-weight="normal" font-family="Liberation Sans" fill="#111" style="white-space:pre" textLength="9.7" lengthAdjust="spacingAndGlyphs">15k</text>
<text x="545.2" y="768.7" font-size="7" font-style="italic" font-weight="normal" font-family="Liberation Sans" fill="#111" style="white-space:pre" textLength="12" lengthAdjust="spacingAndGlyphs">C12</text>
<text x="545.2" y="778.3" font-size="7" font-style="italic" font-weight="normal" font-family="Liberation Sans" fill="#111" style="white-space:pre" textLength="19.2" lengthAdjust="spacingAndGlyphs">47nF</text>
<text x="653.2" y="590.5" font-size="7" font-style="italic" font-weight="normal" font-family="Liberation Sans" fill="#111" style="white-space:pre" textLength="3" lengthAdjust="spacingAndGlyphs">7</text>
<text x="676.1" y="623.1" font-size="7" font-style="italic" font-weight="normal" font-family="Liberation Sans" fill="#111" style="white-space:pre" textLength="3" lengthAdjust="spacingAndGlyphs">9</text>
<text x="635.2" y="629.8" font-size="7" font-style="italic" font-weight="normal" font-family="Liberation Sans" fill="#111" style="white-space:pre" textLength="3" lengthAdjust="spacingAndGlyphs">2</text>
<text x="642.4" y="664" font-size="7" font-style="italic" font-weight="normal" font-family="Liberation Sans" fill="#111" style="white-space:pre" textLength="3" lengthAdjust="spacingAndGlyphs">3</text>
<text x="655.6" y="664" font-size="7" font-style="italic" font-weight="normal" font-family="Liberation Sans" fill="#111" style="white-space:pre" textLength="3" lengthAdjust="spacingAndGlyphs">4</text>
<text x="665.2" y="664" font-size="7" font-style="italic" font-weight="normal" font-family="Liberation Sans" fill="#111" style="white-space:pre" textLength="3" lengthAdjust="spacingAndGlyphs">5</text>
<text x="627" y="684.9" font-size="7" font-style="italic" font-weight="normal" font-family="Liberation Sans" fill="#111" style="white-space:pre" textLength="12" lengthAdjust="spacingAndGlyphs">C14</text>
<text x="623.4" y="692.1" font-size="7" font-style="italic" font-weight="normal" font-family="Liberation Sans" fill="#111" style="white-space:pre" textLength="18.1" lengthAdjust="spacingAndGlyphs">100µF</text>
<text x="625.8" y="700.8" font-size="7" font-style="italic" font-weight="normal" font-family="Liberation Sans" fill="#111" style="white-space:pre" textLength="14.5" lengthAdjust="spacingAndGlyphs">3/4V</text>
<text x="627" y="717.4" font-size="7" font-style="italic" font-weight="normal" font-family="Liberation Sans" fill="#111" style="white-space:pre" textLength="12" lengthAdjust="spacingAndGlyphs">C16</text>
<text x="619.3" y="725.4" font-size="7" font-style="italic" font-weight="normal" font-family="Liberation Sans" fill="#111" style="white-space:pre" textLength="21" lengthAdjust="spacingAndGlyphs">100µF</text>
<text x="624.6" y="733.8" font-size="7" font-style="italic" font-weight="normal" font-family="Liberation Sans" fill="#111" style="white-space:pre" textLength="13.3" lengthAdjust="spacingAndGlyphs">3/4V</text>
<text x="687.2" y="675.5" font-size="7" font-style="italic" font-weight="normal" font-family="Liberation Sans" fill="#111" style="white-space:pre" textLength="12.8" lengthAdjust="spacingAndGlyphs">R26</text>
<text x="687.2" y="684.5" font-size="7" font-style="italic" font-weight="normal" font-family="Liberation Sans" fill="#111" style="white-space:pre" textLength="12.8" lengthAdjust="spacingAndGlyphs">50Ω</text>
<text x="687.2" y="716.9" font-size="7" font-style="italic" font-weight="normal" font-family="Liberation Sans" fill="#111" style="white-space:pre" textLength="12.8" lengthAdjust="spacingAndGlyphs">R28</text>
<text x="687.2" y="725.4" font-size="7" font-style="italic" font-weight="normal" font-family="Liberation Sans" fill="#111" style="white-space:pre" textLength="12.8" lengthAdjust="spacingAndGlyphs">50Ω</text>
<text x="653.9" y="815.6" font-size="7" font-style="italic" font-weight="normal" font-family="Liberation Sans" fill="#111" style="white-space:pre" textLength="3" lengthAdjust="spacingAndGlyphs">7</text>
<text x="642.4" y="745.8" font-size="7" font-style="italic" font-weight="normal" font-family="Liberation Sans" fill="#111" style="white-space:pre" textLength="3" lengthAdjust="spacingAndGlyphs">3</text>
<text x="655.6" y="742.2" font-size="7" font-style="italic" font-weight="normal" font-family="Liberation Sans" fill="#111" style="white-space:pre" textLength="3" lengthAdjust="spacingAndGlyphs">4</text>
<text x="666.5" y="742.2" font-size="7" font-style="italic" font-weight="normal" font-family="Liberation Sans" fill="#111" style="white-space:pre" textLength="3" lengthAdjust="spacingAndGlyphs">5</text>
<text x="636.4" y="769.4" font-size="7" font-style="italic" font-weight="normal" font-family="Liberation Sans" fill="#111" style="white-space:pre" textLength="3" lengthAdjust="spacingAndGlyphs">2</text>
<text x="677.3" y="775.9" font-size="7" font-style="italic" font-weight="normal" font-family="Liberation Sans" fill="#111" style="white-space:pre" textLength="3" lengthAdjust="spacingAndGlyphs">9</text>
<text x="598.2" y="818" font-size="7" font-style="italic" font-weight="normal" font-family="Liberation Sans" fill="#111" style="white-space:pre" textLength="45" lengthAdjust="spacingAndGlyphs">BV 9218-012</text>
<text x="587.8" y="440.3" font-size="7" font-style="italic" font-weight="normal" font-family="Liberation Sans" fill="#111" style="white-space:pre" textLength="49.8" lengthAdjust="spacingAndGlyphs">BV 9218-012</text>
<text x="744.7" y="599.1" font-size="7" font-style="italic" font-weight="normal" font-family="Liberation Sans" fill="#111" style="white-space:pre" textLength="15.2" lengthAdjust="spacingAndGlyphs">blau</text>
<text x="744.7" y="607.5" font-size="7" font-style="italic" font-weight="normal" font-family="Liberation Sans" fill="#111" style="white-space:pre" textLength="18.8" lengthAdjust="spacingAndGlyphs">BLUE</text>
<text x="744.7" y="615.9" font-size="7" font-style="italic" font-weight="normal" font-family="Liberation Sans" fill="#111" style="white-space:pre" textLength="20" lengthAdjust="spacingAndGlyphs">BLEU</text>
<text x="746.7" y="649.6" font-size="7" font-style="italic" font-weight="normal" font-family="Liberation Sans" fill="#111" style="white-space:pre" textLength="26.4" lengthAdjust="spacingAndGlyphs">9006 -</text>
<text x="755.1" y="658.3" font-size="7" font-style="italic" font-weight="normal" font-family="Liberation Sans" fill="#111" style="white-space:pre" textLength="20.9" lengthAdjust="spacingAndGlyphs">001.01</text>
<text x="757.5" y="675.6" font-size="7" font-style="italic" font-weight="normal" font-family="Liberation Sans" fill="#111" style="white-space:pre" textLength="18.1" lengthAdjust="spacingAndGlyphs">schw.</text>
<text x="756.3" y="684.1" font-size="7" font-style="italic" font-weight="normal" font-family="Liberation Sans" fill="#111" style="white-space:pre" textLength="21.2" lengthAdjust="spacingAndGlyphs">BLACK</text>
<text x="757.5" y="692" font-size="7" font-style="italic" font-weight="normal" font-family="Liberation Sans" fill="#111" style="white-space:pre" textLength="17.5" lengthAdjust="spacingAndGlyphs">NOIR</text>
<text x="724.5" y="700.2" font-size="7" font-style="italic" font-weight="normal" font-family="Liberation Sans" fill="#111" style="white-space:pre" textLength="12.5" lengthAdjust="spacingAndGlyphs">rosa</text>
<text x="719" y="706.9" font-size="7" font-style="italic" font-weight="normal" font-family="Liberation Sans" fill="#111" style="white-space:pre" textLength="15.6" lengthAdjust="spacingAndGlyphs">PINK</text>
<text x="719" y="713.7" font-size="7" font-style="italic" font-weight="normal" font-family="Liberation Sans" fill="#111" style="white-space:pre" textLength="16.8" lengthAdjust="spacingAndGlyphs">ROSE</text>
<text x="765.9" y="717.8" font-size="7" font-style="italic" font-weight="normal" font-family="Liberation Sans" fill="#111" style="white-space:pre" textLength="9.7" lengthAdjust="spacingAndGlyphs">ca.</text>
<text x="765.9" y="726.2" font-size="7" font-style="italic" font-weight="normal" font-family="Liberation Sans" fill="#111" style="white-space:pre" textLength="10.9" lengthAdjust="spacingAndGlyphs">5Ω</text>
<text x="760.6" y="747.9" font-size="7" font-style="italic" font-weight="normal" font-family="Liberation Sans" fill="#111" style="white-space:pre" textLength="15.4" lengthAdjust="spacingAndGlyphs">grün</text>
<text x="756.8" y="755.8" font-size="7" font-style="italic" font-weight="normal" font-family="Liberation Sans" fill="#111" style="white-space:pre" textLength="21.2" lengthAdjust="spacingAndGlyphs">GREEN</text>
<text x="757.5" y="764.2" font-size="7" font-style="italic" font-weight="normal" font-family="Liberation Sans" fill="#111" style="white-space:pre" textLength="15.6" lengthAdjust="spacingAndGlyphs">VERT</text>
<text x="744.7" y="771.9" font-size="7" font-style="italic" font-weight="normal" font-family="Liberation Sans" fill="#111" style="white-space:pre" textLength="10.4" lengthAdjust="spacingAndGlyphs">rot</text>
<text x="744.7" y="780.4" font-size="7" font-style="italic" font-weight="normal" font-family="Liberation Sans" fill="#111" style="white-space:pre" textLength="14" lengthAdjust="spacingAndGlyphs">RED</text>
<text x="744.7" y="788.1" font-size="7" font-style="italic" font-weight="normal" font-family="Liberation Sans" fill="#111" style="white-space:pre" textLength="21.7" lengthAdjust="spacingAndGlyphs">ROUGE</text>
<text x="277.5" y="669.9" font-size="12.3" font-style="italic" font-weight="normal" font-family="Liberation Sans" fill="#111" style="white-space:pre" textLength="59" lengthAdjust="spacingAndGlyphs">1/2ECC83'II</text>
<text x="448.4" y="668.3" font-size="12.3" font-style="italic" font-weight="normal" font-family="Liberation Sans" fill="#111" style="white-space:pre" textLength="51" lengthAdjust="spacingAndGlyphs">1/2ECC83II</text>
<text x="609" y="592.5" font-size="12.6" font-style="italic" font-weight="normal" font-family="Liberation Sans" fill="#111" style="white-space:pre" textLength="38.5" lengthAdjust="spacingAndGlyphs">EL84III</text>
<text x="603" y="794.8" font-size="12.6" font-style="italic" font-weight="normal" font-family="Liberation Sans" fill="#111" style="white-space:pre" textLength="36" lengthAdjust="spacingAndGlyphs">EL84IV</text>
<text x="795.3" y="708.6" font-size="8.4" font-style="italic" font-weight="normal" font-family="Liberation Sans" fill="#111" style="white-space:pre" textLength="57.3" lengthAdjust="spacingAndGlyphs">Rechter Kanal</text>
<text x="796" y="718.1" font-size="7.8" font-style="italic" font-weight="normal" font-family="Liberation Sans" fill="#111" style="white-space:pre" textLength="61.4" lengthAdjust="spacingAndGlyphs">RIGHT CHANNEL</text>
<text x="798.4" y="726.5" font-size="7.8" font-style="italic" font-weight="normal" font-family="Liberation Sans" fill="#111" style="white-space:pre" textLength="50.6" lengthAdjust="spacingAndGlyphs">CANAL DROIT</text>
<polyline points="888.1,381.7 888.1,385.3 891.7,385.3 891.7,378.3 895.4,378.3 895.4,385.3 899,385.3 899,378.3 902.6,378.3 902.6,385.3 906.3,385.3 906.3,378.3 909.9,378.3 909.9,381.7" fill="none" stroke="#111" stroke-width="1.3"/>
<polyline points="909,381.7 1253.4,381.7 1253.4,594.5 1159.5,594.5 1159.5,569.5" fill="none" stroke="#111" stroke-width="1.25"/>
<text x="916.3" y="378.9" font-size="7" font-style="italic" font-weight="normal" font-family="Liberation Sans" fill="#111" style="white-space:pre" textLength="16.8" lengthAdjust="spacingAndGlyphs">R29</text>
<text x="915" y="390.9" font-size="7" font-style="italic" font-weight="normal" font-family="Liberation Sans" fill="#111" style="white-space:pre" textLength="26.6" lengthAdjust="spacingAndGlyphs">1k/4W</text>
<polyline points="800.3,381.7 800.3,491" fill="none" stroke="#111" stroke-width="1.25"/>
<polyline points="407.9,451 835.6,448.8 835.6,491" fill="none" stroke="#111" stroke-width="1.25"/>
<circle cx="407.9" cy="451" r="2.4" fill="#111"/>
<polyline points="705,458.7 835.6,458.7" fill="none" stroke="#111" stroke-width="1.25"/>
<circle cx="800.3" cy="458.7" r="2.4" fill="#111"/>
<circle cx="835.6" cy="458.7" r="2.4" fill="#111"/>
<rect x="810" y="455.2" width="16" height="7" fill="#fff" stroke="#111" stroke-width="1.1"/>
<polygon points="826,455.2 826,462.2 810,462.2" fill="#111"/>
<text x="803.1" y="470.1" font-size="7" font-style="italic" font-weight="normal" font-family="Liberation Sans" fill="#111" style="white-space:pre" textLength="31.3" lengthAdjust="spacingAndGlyphs">R28/10k</text>
<polyline points="553.8,478.4 971.3,478.3 971.3,615.6" fill="none" stroke="#111" stroke-width="1.25"/>
<circle cx="553.8" cy="478.4" r="2.4" fill="#111"/>
<circle cx="859.2" cy="478.3" r="2.4" fill="#111"/>
<circle cx="884.3" cy="478.3" r="2.4" fill="#111"/>
<circle cx="917.5" cy="478.3" r="2.4" fill="#111"/>
<circle cx="942.8" cy="478.3" r="2.4" fill="#111"/>
<rect x="798.3" y="492.2" width="4" height="2.2" fill="#fdfdfd"/>
<rect x="793.5" y="489.6" width="13.6" height="2.1" fill="#fdfdfd" stroke="#111" stroke-width="0.9"/>
<rect x="793" y="494.4" width="14.5" height="1.9" fill="#111"/>
<polyline points="800.3,495.8 800.3,513.3" fill="none" stroke="#111" stroke-width="1.25"/>
<polyline points="796.8,513.3 803.8,513.3" fill="none" stroke="#111" stroke-width="1.3"/>
<polyline points="803.8,486.5 807.8,486.5" fill="none" stroke="#111" stroke-width="1.1"/>
<polyline points="805.8,484.5 805.8,488.5" fill="none" stroke="#111" stroke-width="1.1"/>
<rect x="833.6" y="492.2" width="4" height="2.2" fill="#fdfdfd"/>
<rect x="828.8" y="489.6" width="13.6" height="2.1" fill="#fdfdfd" stroke="#111" stroke-width="0.9"/>
<rect x="828.4" y="494.4" width="14.5" height="1.9" fill="#111"/>
<polyline points="835.6,495.8 835.6,513.3" fill="none" stroke="#111" stroke-width="1.25"/>
<polyline points="832.1,513.3 839.1,513.3" fill="none" stroke="#111" stroke-width="1.3"/>
<polyline points="839.1,486.5 843.1,486.5" fill="none" stroke="#111" stroke-width="1.1"/>
<polyline points="841.1,484.5 841.1,488.5" fill="none" stroke="#111" stroke-width="1.1"/>
<polyline points="859.2,478.3 859.2,513.3" fill="none" stroke="#111" stroke-width="1.25"/>
<rect x="857.2" y="493.1" width="4" height="2.2" fill="#fdfdfd"/>
<rect x="852.4" y="495.8" width="13.6" height="2.1" fill="#fdfdfd" stroke="#111" stroke-width="0.9"/>
<rect x="852" y="491.2" width="14.5" height="1.9" fill="#111"/>
<polyline points="855.7,513.3 862.7,513.3" fill="none" stroke="#111" stroke-width="1.3"/>
<polyline points="862.5,501.5 866.5,501.5" fill="none" stroke="#111" stroke-width="1.1"/>
<polyline points="864.5,499.5 864.5,503.5" fill="none" stroke="#111" stroke-width="1.1"/>
<polyline points="884.3,478.3 884.3,513.3" fill="none" stroke="#111" stroke-width="1.25"/>
<rect x="881.1" y="491.5" width="6.6" height="15" fill="#fff" stroke="#111" stroke-width="1.1"/>
<polygon points="887.7,491.5 887.7,506.5 881.1,506.5" fill="#111"/>
<polyline points="880.8,513.3 887.8,513.3" fill="none" stroke="#111" stroke-width="1.3"/>
<rect x="894.1" y="474.8" width="15.4" height="7" fill="#fff" stroke="#111" stroke-width="1.1"/>
<polygon points="909.5,474.8 909.5,481.8 894.1,481.8" fill="#111"/>
<polyline points="917.5,478.3 917.5,513.3" fill="none" stroke="#111" stroke-width="1.25"/>
<rect x="914.2" y="491.9" width="6.6" height="15" fill="#fff" stroke="#111" stroke-width="1.1"/>
<polyline points="914,513.3 921,513.3" fill="none" stroke="#111" stroke-width="1.3"/>
<polyline points="942.8,478.3 942.8,513.3" fill="none" stroke="#111" stroke-width="1.25"/>
<rect x="940.8" y="493.4" width="4" height="2.2" fill="#fdfdfd"/>
<rect x="936" y="496.1" width="13.6" height="2.1" fill="#fdfdfd" stroke="#111" stroke-width="0.9"/>
<rect x="935.5" y="491.5" width="14.5" height="1.9" fill="#111"/>
<polyline points="939.3,513.3 946.3,513.3" fill="none" stroke="#111" stroke-width="1.3"/>
<polyline points="945.8,501.8 949.8,501.8" fill="none" stroke="#111" stroke-width="1.1"/>
<polyline points="947.8,499.8 947.8,503.8" fill="none" stroke="#111" stroke-width="1.1"/>
<text x="812.8" y="499" font-size="7" font-style="italic" font-weight="normal" font-family="Liberation Sans" fill="#111" style="white-space:pre" textLength="9.6" lengthAdjust="spacingAndGlyphs">2 x</text>
<text x="811.6" y="506.9" font-size="7" font-style="italic" font-weight="normal" font-family="Liberation Sans" fill="#111" style="white-space:pre" textLength="20.4" lengthAdjust="spacingAndGlyphs">100µF</text>
<text x="806.8" y="515.4" font-size="7" font-style="italic" font-weight="normal" font-family="Liberation Sans" fill="#111" style="white-space:pre" textLength="25.2" lengthAdjust="spacingAndGlyphs">C19  C20</text>
<text x="802.7" y="524.3" font-size="7" font-style="italic" font-weight="normal" font-family="Liberation Sans" fill="#111" style="white-space:pre" textLength="31.3" lengthAdjust="spacingAndGlyphs">350/385V</text>
<text x="842.1" y="502.8" font-size="7" font-style="italic" font-weight="normal" font-family="Liberation Sans" fill="#111" style="white-space:pre" textLength="14" lengthAdjust="spacingAndGlyphs">C22</text>
<text x="839.3" y="512.2" font-size="7" font-style="italic" font-weight="normal" font-family="Liberation Sans" fill="#111" style="white-space:pre" textLength="16.8" lengthAdjust="spacingAndGlyphs">50µF</text>
<text x="842.1" y="524.3" font-size="7" font-style="italic" font-weight="normal" font-family="Liberation Sans" fill="#111" style="white-space:pre" textLength="19.3" lengthAdjust="spacingAndGlyphs">15/16V</text>
<text x="870.5" y="473.7" font-size="7" font-style="italic" font-weight="normal" font-family="Liberation Sans" fill="#111" style="white-space:pre" textLength="14.5" lengthAdjust="spacingAndGlyphs">-11V</text>
<text x="896.5" y="471.3" font-size="7" font-style="italic" font-weight="normal" font-family="Liberation Sans" fill="#111" style="white-space:pre" textLength="13.8" lengthAdjust="spacingAndGlyphs">R32</text>
<text x="895.8" y="489.6" font-size="7" font-style="italic" font-weight="normal" font-family="Liberation Sans" fill="#111" style="white-space:pre" textLength="8.5" lengthAdjust="spacingAndGlyphs">56k</text>
<text x="892.2" y="498.5" font-size="7" font-style="italic" font-weight="normal" font-family="Liberation Sans" fill="#111" style="white-space:pre" textLength="10.8" lengthAdjust="spacingAndGlyphs">R31</text>
<text x="892.2" y="506.9" font-size="7" font-style="italic" font-weight="normal" font-family="Liberation Sans" fill="#111" style="white-space:pre" textLength="12.1" lengthAdjust="spacingAndGlyphs">100k</text>
<text x="923.5" y="512.2" font-size="7" font-style="italic" font-weight="normal" font-family="Liberation Sans" fill="#111" style="white-space:pre" textLength="12" lengthAdjust="spacingAndGlyphs">R33</text>
<text x="910.3" y="524.3" font-size="7" font-style="italic" font-weight="normal" font-family="Liberation Sans" fill="#111" style="white-space:pre" textLength="16.8" lengthAdjust="spacingAndGlyphs">680Ω</text>
<text x="924.7" y="473.7" font-size="7" font-style="italic" font-weight="normal" font-family="Liberation Sans" fill="#111" style="white-space:pre" textLength="16.9" lengthAdjust="spacingAndGlyphs">-16V</text>
<text x="954.8" y="499.2" font-size="7" font-style="italic" font-weight="normal" font-family="Liberation Sans" fill="#111" style="white-space:pre" textLength="12" lengthAdjust="spacingAndGlyphs">C21</text>
<text x="952.4" y="506.9" font-size="7" font-style="italic" font-weight="normal" font-family="Liberation Sans" fill="#111" style="white-space:pre" textLength="18" lengthAdjust="spacingAndGlyphs">100µF</text>
<text x="944" y="524.3" font-size="7" font-style="italic" font-weight="normal" font-family="Liberation Sans" fill="#111" style="white-space:pre" textLength="24" lengthAdjust="spacingAndGlyphs">30/35V</text>
<polyline points="722.4,531.6 835.6,531.6 835.6,553.8" fill="none" stroke="#111" stroke-width="1.25"/>
<polyline points="705,553.9 791.3,553.9" fill="none" stroke="#111" stroke-width="1.25"/>
<polyline points="791.3,553.9 791.3,557.5 794.8,557.5 794.8,550.5 798.2,550.5 798.2,557.5 801.6,557.5 801.6,550.5 805.1,550.5 805.1,557.5 808.6,557.5 808.6,550.5 812,550.5 812,553.9" fill="none" stroke="#111" stroke-width="1.3"/>
<polyline points="812,553.9 897.5,553.9" fill="none" stroke="#111" stroke-width="1.25"/>
<circle cx="835.6" cy="553.9" r="2.4" fill="#111"/>
<circle cx="859.2" cy="553.9" r="2.4" fill="#111"/>
<circle cx="897.5" cy="553.9" r="2.4" fill="#111"/>
<text x="796" y="546.1" font-size="7" font-style="italic" font-weight="normal" font-family="Liberation Sans" fill="#111" style="white-space:pre" textLength="14.4" lengthAdjust="spacingAndGlyphs">R30</text>
<text x="791.5" y="566.7" font-size="7" font-style="italic" font-weight="normal" font-family="Liberation Sans" fill="#111" style="white-space:pre" textLength="35.1" lengthAdjust="spacingAndGlyphs">180Ω/6W</text>
<rect x="859.7" y="532.8" width="56.6" height="10.2" fill="none" stroke="#111" stroke-width="1.0"/>
<text x="862" y="541" font-size="8.4" font-style="italic" font-weight="normal" font-family="Liberation Sans" fill="#111" style="white-space:pre" textLength="52" lengthAdjust="spacingAndGlyphs">312V  150mA</text>
<polyline points="859.7,543 839.5,552" fill="none" stroke="#111" stroke-width="0.9"/>
<polygon points="839.3,552.2 842.5,551.1 842.5,553.3" fill="#111"/>
<polyline points="835.6,553.9 835.6,582" fill="none" stroke="#111" stroke-width="1.25"/>
<rect x="833.6" y="568.4" width="4" height="2.2" fill="#fdfdfd"/>
<rect x="828.8" y="565.9" width="13.6" height="2.1" fill="#fdfdfd" stroke="#111" stroke-width="0.9"/>
<rect x="828.4" y="570.6" width="14.5" height="1.9" fill="#111"/>
<polyline points="832.1,582 839.1,582" fill="none" stroke="#111" stroke-width="1.3"/>
<polyline points="838.1,562.8 842.1,562.8" fill="none" stroke="#111" stroke-width="1.1"/>
<polyline points="840.1,560.8 840.1,564.8" fill="none" stroke="#111" stroke-width="1.1"/>
<polyline points="859.2,553.9 859.2,582" fill="none" stroke="#111" stroke-width="1.25"/>
<rect x="857.2" y="568.4" width="4" height="2.2" fill="#fdfdfd"/>
<rect x="852.4" y="565.9" width="13.6" height="2.1" fill="#fdfdfd" stroke="#111" stroke-width="0.9"/>
<rect x="852" y="570.6" width="14.5" height="1.9" fill="#111"/>
<polyline points="855.7,582 862.7,582" fill="none" stroke="#111" stroke-width="1.3"/>
<polyline points="861.7,562.8 865.7,562.8" fill="none" stroke="#111" stroke-width="1.1"/>
<polyline points="863.7,560.8 863.7,564.8" fill="none" stroke="#111" stroke-width="1.1"/>
<text x="832.6" y="590.5" font-size="7" font-style="italic" font-weight="normal" font-family="Liberation Sans" fill="#111" style="white-space:pre" textLength="12" lengthAdjust="spacingAndGlyphs">C17</text>
<text x="855.1" y="590.5" font-size="7" font-style="italic" font-weight="normal" font-family="Liberation Sans" fill="#111" style="white-space:pre" textLength="11.3" lengthAdjust="spacingAndGlyphs">C18</text>
<text x="837.9" y="599.5" font-size="7" font-style="italic" font-weight="normal" font-family="Liberation Sans" fill="#111" style="white-space:pre" textLength="27.7" lengthAdjust="spacingAndGlyphs">2x100µF</text>
<text x="833.3" y="607.8" font-size="7" font-style="italic" font-weight="normal" font-family="Liberation Sans" fill="#111" style="white-space:pre" textLength="33.1" lengthAdjust="spacingAndGlyphs">350/385V</text>
<polyline points="897.3,553.9 876,575 897.3,596.6 919.8,575 897.3,553.9" fill="none" stroke="#111" stroke-width="1.2"/>
<g transform="translate(886.2,564.7) rotate(-135)"><polygon points="-5,-4.2 5,-4.2 0,2.4" fill="#111"/><line x1="-6" y1="2.6" x2="6" y2="2.6" stroke="#111" stroke-width="2.1"/></g>
<g transform="translate(908.4,564.7) rotate(135)"><polygon points="-5,-4.2 5,-4.2 0,2.4" fill="#111"/><line x1="-6" y1="2.6" x2="6" y2="2.6" stroke="#111" stroke-width="2.1"/></g>
<g transform="translate(886.7,585.6) rotate(135)"><polygon points="-5,-4.2 5,-4.2 0,2.4" fill="#111"/><line x1="-6" y1="2.6" x2="6" y2="2.6" stroke="#111" stroke-width="2.1"/></g>
<g transform="translate(908.2,585.6) rotate(-135)"><polygon points="-5,-4.2 5,-4.2 0,2.4" fill="#111"/><line x1="-6" y1="2.6" x2="6" y2="2.6" stroke="#111" stroke-width="2.1"/></g>
<circle cx="897.3" cy="596.6" r="1.6" fill="#111"/>
<polyline points="897.3,596.6 897.3,605.5" fill="none" stroke="#111" stroke-width="1.1"/>
<polyline points="894.3,605.5 900.3,605.5" fill="none" stroke="#111" stroke-width="1.3"/>
<circle cx="876" cy="575" r="1.2" fill="#111"/>
<circle cx="919.8" cy="575" r="1.2" fill="#111"/>
<text x="919.9" y="567.3" font-size="8.9" font-style="italic" font-weight="bold" font-family="Liberation Sans" fill="#111" style="white-space:pre" textLength="49.4" lengthAdjust="spacingAndGlyphs">2×B250 C150</text>
<polyline points="741.8,574.6 876,575" fill="none" stroke="#111" stroke-width="1.25"/>
<polyline points="876.2,575 876.2,615.6" fill="none" stroke="#111" stroke-width="1.25"/>
<polyline points="919.8,575 919.8,615.6" fill="none" stroke="#111" stroke-width="1.25"/>
<polyline points="928.5,586 928.5,615.6" fill="none" stroke="#111" stroke-width="1.1"/>
<polyline points="926,585 931,585" fill="none" stroke="#111" stroke-width="1.2"/>
<polygon points="923.5,604 933.5,604 928.5,598.3" fill="#111"/>
<polyline points="923,597.8 934,597.8" fill="none" stroke="#111" stroke-width="1.8"/>
<text x="934.6" y="591" font-size="7.3" font-style="italic" font-weight="normal" font-family="Liberation Sans" fill="#111" style="white-space:pre" textLength="33.7" lengthAdjust="spacingAndGlyphs">E14 C350</text>
<text x="934.6" y="603.1" font-size="7.3" font-style="italic" font-weight="normal" font-family="Liberation Sans" fill="#111" style="white-space:pre" textLength="37.4" lengthAdjust="spacingAndGlyphs">BLANC/VERT</text>
<text x="929.8" y="612" font-size="7.3" font-style="italic" font-weight="normal" font-family="Liberation Sans" fill="#111" style="white-space:pre" textLength="40.9" lengthAdjust="spacingAndGlyphs">WHT/GREEN</text>
<rect x="876.4" y="615.6" width="43.3" height="8.9" fill="#111"/>
<rect x="928.1" y="615.6" width="43.8" height="8.9" fill="#111"/>
<rect x="980.4" y="615.6" width="45.2" height="8.9" fill="#111"/>
<rect x="1033.3" y="615.6" width="43.4" height="8.9" fill="#111"/>
<polyline points="876.4,627.6 1077.9,627.6" fill="none" stroke="#111" stroke-width="1.0"/>
<polyline points="876.4,631 1077.9,631" fill="none" stroke="#111" stroke-width="1.0"/>
<polyline points="876.4,629.3 1077.9,629.3" fill="none" stroke="#111" stroke-width="0.7"/>
<polyline points="1077.9,629.3 1087.5,629.3" fill="none" stroke="#111" stroke-width="1.1"/>
<polyline points="1087.5,625.8 1087.5,632.8" fill="none" stroke="#111" stroke-width="1.3"/>
<rect x="876.4" y="634.9" width="200.3" height="8.2" fill="#111"/>
<text x="825.8" y="630" font-size="9.8" font-style="italic" font-weight="normal" font-family="Liberation Sans" fill="#111" style="white-space:pre" textLength="48.8" lengthAdjust="spacingAndGlyphs">9009-006.02</text>
<polyline points="976.3,643 976.3,707.6" fill="none" stroke="#111" stroke-width="1.25"/>
<circle cx="976.3" cy="707.6" r="2.4" fill="#111"/>
<polyline points="1011.7,643 1011.7,707.6" fill="none" stroke="#111" stroke-width="1.25"/>
<circle cx="1011.7" cy="707.6" r="2.4" fill="#111"/>
<polyline points="1045.4,643 1045.4,707.6" fill="none" stroke="#111" stroke-width="1.25"/>
<circle cx="1045.4" cy="707.6" r="2.4" fill="#111"/>
<polyline points="1077.4,643 1077.4,707.6" fill="none" stroke="#111" stroke-width="1.25"/>
<circle cx="1077.4" cy="707.6" r="2.4" fill="#111"/>
<circle cx="976.3" cy="680.6" r="4.8" fill="#fdfdfd" stroke="#111" stroke-width="1.1"/>
<circle cx="1011.7" cy="680.6" r="4.8" fill="#fdfdfd" stroke="#111" stroke-width="1.1"/>
<circle cx="1077.4" cy="680.6" r="4.8" fill="#fdfdfd" stroke="#111" stroke-width="1.1"/>
<rect x="1042.5" y="671.5" width="6" height="18" rx="3" fill="#fdfdfd" stroke="#111" stroke-width="1.3"/>
<polyline points="1041.5,675 1049.5,675" fill="none" stroke="#111" stroke-width="1"/>
<polyline points="1041.5,686 1049.5,686" fill="none" stroke="#111" stroke-width="1"/>
<polyline points="976.3,707.6 1126,707.6" fill="none" stroke="#111" stroke-width="1.25"/>
<circle cx="1126" cy="707.6" r="2.4" fill="#111"/>
<polyline points="977.2,707.6 977.2,769 913.4,769 913.4,831.6" fill="none" stroke="#111" stroke-width="1.25"/>
<polyline points="876.4,643 876.4,831.6" fill="none" stroke="#111" stroke-width="1.25"/>
<circle cx="876.4" cy="732.1" r="2.4" fill="#111"/>
<polyline points="876.4,732.3 1126,732.3" fill="none" stroke="#111" stroke-width="1.25"/>
<circle cx="1126" cy="732.6" r="2.4" fill="#111"/>
<rect x="874.9" y="823" width="3" height="9" fill="#111"/><rect x="911.9" y="823" width="3" height="9" fill="#111"/>
<text x="979.2" y="657.7" font-size="7.3" font-style="italic" font-weight="normal" font-family="Liberation Sans" fill="#111" style="white-space:pre" textLength="14.4" lengthAdjust="spacingAndGlyphs">110V</text>
<text x="980.4" y="665.7" font-size="7.3" font-style="italic" font-weight="normal" font-family="Liberation Sans" fill="#111" style="white-space:pre" textLength="26.4" lengthAdjust="spacingAndGlyphs">rot/RED</text>
<text x="981.6" y="674.1" font-size="7.3" font-style="italic" font-weight="normal" font-family="Liberation Sans" fill="#111" style="white-space:pre" textLength="20.4" lengthAdjust="spacingAndGlyphs">ROUGE</text>
<text x="1014" y="657.7" font-size="7.3" font-style="italic" font-weight="normal" font-family="Liberation Sans" fill="#111" style="white-space:pre" textLength="14.5" lengthAdjust="spacingAndGlyphs">125V</text>
<text x="1014" y="665.7" font-size="7.3" font-style="italic" font-weight="normal" font-family="Liberation Sans" fill="#111" style="white-space:pre" textLength="30.2" lengthAdjust="spacingAndGlyphs">blau/BLUE</text>
<text x="1017.7" y="674.1" font-size="7.3" font-style="italic" font-weight="normal" font-family="Liberation Sans" fill="#111" style="white-space:pre" textLength="15.6" lengthAdjust="spacingAndGlyphs">BLEU</text>
<text x="1047.8" y="652.4" font-size="7.3" font-style="italic" font-weight="normal" font-family="Liberation Sans" fill="#111" style="white-space:pre" textLength="16.8" lengthAdjust="spacingAndGlyphs">220V</text>
<text x="1047.8" y="659.2" font-size="7.3" font-style="italic" font-weight="normal" font-family="Liberation Sans" fill="#111" style="white-space:pre" textLength="14.4" lengthAdjust="spacingAndGlyphs">grau/</text>
<text x="1046.6" y="666.9" font-size="7.3" font-style="italic" font-weight="normal" font-family="Liberation Sans" fill="#111" style="white-space:pre" textLength="28.9" lengthAdjust="spacingAndGlyphs">GREY/GRIS</text>
<text x="1081" y="657.7" font-size="7.3" font-style="italic" font-weight="normal" font-family="Liberation Sans" fill="#111" style="white-space:pre" textLength="17.3" lengthAdjust="spacingAndGlyphs">240V</text>
<text x="1081" y="665.7" font-size="7.3" font-style="italic" font-weight="normal" font-family="Liberation Sans" fill="#111" style="white-space:pre" textLength="40.2" lengthAdjust="spacingAndGlyphs">weiß/WHITE</text>
<text x="1082.7" y="674.1" font-size="7.3" font-style="italic" font-weight="normal" font-family="Liberation Sans" fill="#111" style="white-space:pre" textLength="20.4" lengthAdjust="spacingAndGlyphs">BLANC</text>
<text x="888.4" y="806.5" font-size="7.3" font-style="italic" font-weight="normal" font-family="Liberation Sans" fill="#111" style="white-space:pre" textLength="18.6" lengthAdjust="spacingAndGlyphs">Netz</text>
<text x="886" y="814.9" font-size="7.3" font-style="italic" font-weight="normal" font-family="Liberation Sans" fill="#111" style="white-space:pre" textLength="23.4" lengthAdjust="spacingAndGlyphs">MAINS</text>
<text x="884.6" y="823.3" font-size="7.3" font-style="italic" font-weight="normal" font-family="Liberation Sans" fill="#111" style="white-space:pre" textLength="27.2" lengthAdjust="spacingAndGlyphs">RESEAU</text>
<text x="918.3" y="814.9" font-size="7.3" font-style="italic" font-weight="normal" font-family="Liberation Sans" fill="#111" style="white-space:pre" textLength="46.4" lengthAdjust="spacingAndGlyphs">110...240V~</text>
<text x="1037.7" y="823.3" font-size="7.3" font-style="italic" font-weight="normal" font-family="Liberation Sans" fill="#111" style="white-space:pre" textLength="55.8" lengthAdjust="spacingAndGlyphs">FUSE RATINGS:</text>
<text x="1036.9" y="831.8" font-size="7.3" font-style="italic" font-weight="normal" font-family="Liberation Sans" fill="#111" style="white-space:pre" textLength="32.5" lengthAdjust="spacingAndGlyphs">FUSIBLES</text>
<text x="1103.1" y="821.6" font-size="7.3" font-style="italic" font-weight="normal" font-family="Liberation Sans" fill="#111" style="white-space:pre" textLength="31.3" lengthAdjust="spacingAndGlyphs">110/125V</text>
<text x="1102.7" y="831.3" font-size="7.3" font-style="italic" font-weight="normal" font-family="Liberation Sans" fill="#111" style="white-space:pre" textLength="32.9" lengthAdjust="spacingAndGlyphs">220/240V</text>
<text x="1155.8" y="821.3" font-size="7.3" font-style="italic" font-weight="normal" font-family="Liberation Sans" fill="#111" style="white-space:pre" textLength="15.7" lengthAdjust="spacingAndGlyphs">2,5A</text>
<text x="1155.1" y="831.4" font-size="7.3" font-style="italic" font-weight="normal" font-family="Liberation Sans" fill="#111" style="white-space:pre" textLength="17.6" lengthAdjust="spacingAndGlyphs">1,25A</text>
<text x="1185.9" y="817" font-size="7.3" font-style="italic" font-weight="normal" font-family="Liberation Sans" fill="#111" style="white-space:pre" textLength="20.5" lengthAdjust="spacingAndGlyphs">träge</text>
<text x="1185.9" y="824.9" font-size="7.3" font-style="italic" font-weight="normal" font-family="Liberation Sans" fill="#111" style="white-space:pre" textLength="9.7" lengthAdjust="spacingAndGlyphs">SB</text>
<text x="1183" y="834.5" font-size="7.3" font-style="italic" font-weight="normal" font-family="Liberation Sans" fill="#111" style="white-space:pre" textLength="52.3" lengthAdjust="spacingAndGlyphs">A FUSION LENTE</text>
<text x="1106" y="773.6" font-size="7.3" font-style="italic" font-weight="normal" font-family="Liberation Sans" fill="#111" style="white-space:pre" textLength="121.3" lengthAdjust="spacingAndGlyphs">Netzschalter im  Rundfunkteil</text>
<text x="1106" y="783.3" font-size="7.3" font-style="italic" font-weight="normal" font-family="Liberation Sans" fill="#111" style="white-space:pre" textLength="162.3" lengthAdjust="spacingAndGlyphs">MAINS SWITCH  LOCATED  IN RF-AMPLIFIER</text>
<text x="1107" y="791.2" font-size="7.3" font-style="italic" font-weight="normal" font-family="Liberation Sans" fill="#111" style="white-space:pre" textLength="82.5" lengthAdjust="spacingAndGlyphs">INTERRUPTEUR  RADIO</text>
<text x="1172.7" y="656.4" font-size="7.3" font-style="italic" font-weight="normal" font-family="Liberation Sans" fill="#111" style="white-space:pre" textLength="37.3" lengthAdjust="spacingAndGlyphs">AusgangI</text>
<text x="1167.1" y="664.3" font-size="7.3" font-style="italic" font-weight="normal" font-family="Liberation Sans" fill="#111" style="white-space:pre" textLength="55.4" lengthAdjust="spacingAndGlyphs">Stromversorgung</text>
<text x="1240" y="655.9" font-size="7.3" font-style="italic" font-weight="normal" font-family="Liberation Sans" fill="#111" style="white-space:pre" textLength="33.8" lengthAdjust="spacingAndGlyphs">OUTPUT I</text>
<text x="1234" y="664.3" font-size="7.3" font-style="italic" font-weight="normal" font-family="Liberation Sans" fill="#111" style="white-space:pre" textLength="44.6" lengthAdjust="spacingAndGlyphs">POWER PACK</text>
<text x="1307.5" y="655.9" font-size="7.3" font-style="italic" font-weight="normal" font-family="Liberation Sans" fill="#111" style="white-space:pre" textLength="31.3" lengthAdjust="spacingAndGlyphs">SORTIE I</text>
<text x="1291.8" y="664.3" font-size="7.3" font-style="italic" font-weight="normal" font-family="Liberation Sans" fill="#111" style="white-space:pre" textLength="49.4" lengthAdjust="spacingAndGlyphs">ALIMENTATION</text>
<text x="1184.7" y="689.1" font-size="6.4" font-style="italic" font-weight="normal" font-family="Liberation Sans" fill="#111" style="white-space:pre" textLength="66.7" lengthAdjust="spacingAndGlyphs">2 = +255 V    40mA</text>
<text x="1184.7" y="697" font-size="6.4" font-style="italic" font-weight="normal" font-family="Liberation Sans" fill="#111" style="white-space:pre" textLength="34.9" lengthAdjust="spacingAndGlyphs">3 = Masse</text>
<text x="1184.3" y="704.3" font-size="6.4" font-style="italic" font-weight="normal" font-family="Liberation Sans" fill="#111" style="white-space:pre" textLength="3.7" lengthAdjust="spacingAndGlyphs">4</text>
<text x="1184.3" y="712.7" font-size="6.4" font-style="italic" font-weight="normal" font-family="Liberation Sans" fill="#111" style="white-space:pre" textLength="3.7" lengthAdjust="spacingAndGlyphs">5</text>
<text x="1198.4" y="709.1" font-size="6.4" font-style="italic" font-weight="normal" font-family="Liberation Sans" fill="#111" style="white-space:pre" textLength="48.2" lengthAdjust="spacingAndGlyphs">6,3V~      0,3A</text>
<text x="1184" y="721.8" font-size="6.4" font-style="italic" font-weight="normal" font-family="Liberation Sans" fill="#111" style="white-space:pre" textLength="3.7" lengthAdjust="spacingAndGlyphs">6</text>
<text x="1184" y="730" font-size="6.4" font-style="italic" font-weight="normal" font-family="Liberation Sans" fill="#111" style="white-space:pre" textLength="3.7" lengthAdjust="spacingAndGlyphs">7</text>
<text x="1197.5" y="724" font-size="6.4" font-style="italic" font-weight="normal" font-family="Liberation Sans" fill="#111" style="white-space:pre" textLength="51.5" lengthAdjust="spacingAndGlyphs">6,3V~   max 3A</text>
<text x="1037.7" y="815.9" font-size="8.8" font-style="italic" font-weight="normal" font-family="Liberation Sans" fill="#111" style="white-space:pre" textLength="34.1" lengthAdjust="spacingAndGlyphs">Sicherungen</text>
<rect x="970.7" y="808.7" width="38.6" height="9.6" fill="none" stroke="#111" stroke-width="1.0"/>
<text x="974" y="816.1" font-size="7.3" font-style="italic" font-weight="normal" font-family="Liberation Sans" fill="#111" style="white-space:pre" textLength="32" lengthAdjust="spacingAndGlyphs">ca.110W</text>
<text x="1189.5" y="710.3" font-size="11.2" font-style="normal" font-weight="normal" font-family="Liberation Sans" fill="#111" style="white-space:pre" textLength="3.5" lengthAdjust="spacingAndGlyphs">}</text>
<text x="1189.5" y="727.6" font-size="11.2" font-style="normal" font-weight="normal" font-family="Liberation Sans" fill="#111" style="white-space:pre" textLength="3.5" lengthAdjust="spacingAndGlyphs">}</text>
<path d="M1176.5,812.7 q2.5,0 2.5,4 v5 q0,2.5 2,3 q-2,0.5 -2,3 v5 q0,3 -2.5,3" fill="none" stroke="#111" stroke-width="0.9"/>
<polyline points="1033.3,615.6 1033.3,608.6 1195.7,608.6 1195.7,569" fill="none" stroke="#111" stroke-width="1.25"/>
<polyline points="1076.7,620.4 1124.5,620.4" fill="none" stroke="#111" stroke-width="1.25"/>
<rect x="1124.5" y="618.4" width="19.3" height="6" fill="none" stroke="#111" stroke-width="1.0"/>
<polyline points="1129,621.4 1139,621.4" fill="none" stroke="#111" stroke-width="0.8"/>
<polyline points="1143.8,621.3 1222.8,621.3 1222.8,551.2 1199.2,551.2" fill="none" stroke="#111" stroke-width="1.25"/>
<text x="1142.1" y="631.1" font-size="7.3" font-style="italic" font-weight="normal" font-family="Liberation Sans" fill="#111" style="white-space:pre" textLength="28.9" lengthAdjust="spacingAndGlyphs">6A/50V</text>
<polyline points="980.1,591.1 980.1,465.8 1057.2,465.8 1057.2,539.8 1166.5,539.8" fill="none" stroke="#111" stroke-width="1.25"/>
<polyline points="980.1,591.1 980.1,615.6" fill="none" stroke="#111" stroke-width="1.25"/>
<rect x="978" y="595" width="6" height="16" fill="#fdfdfd" stroke="#111" stroke-width="1.0"/>
<polyline points="981,595 981,611" fill="none" stroke="#111" stroke-width="0.7"/>
<polyline points="1012.8,478.3 1025,478.3 1025,615.6" fill="none" stroke="#111" stroke-width="1.25"/>
<circle cx="980.1" cy="478.3" r="2.4" fill="#111"/>
<polyline points="980.1,478.3 993.3,478.3" fill="none" stroke="#111" stroke-width="1.25"/>
<polyline points="1012.8,478.3 1025,478.3" fill="none" stroke="#111" stroke-width="1.25"/>
<path d="M993.3,478.3 A9.75,9.4 0 0 1 1012.8,478.3" fill="none" stroke="#111" stroke-width="1.2"/>
<circle cx="980.1" cy="493.6" r="2.4" fill="#111"/>
<circle cx="1025" cy="493.6" r="2.4" fill="#111"/>
<polyline points="980.1,493.6 993.3,493.6" fill="none" stroke="#111" stroke-width="1.25"/>
<polyline points="1012.8,493.6 1025,493.6" fill="none" stroke="#111" stroke-width="1.25"/>
<path d="M993.3,493.6 A9.75,9.4 0 0 1 1012.8,493.6" fill="none" stroke="#111" stroke-width="1.2"/>
<circle cx="980.1" cy="508.9" r="2.4" fill="#111"/>
<circle cx="1025" cy="508.9" r="2.4" fill="#111"/>
<polyline points="980.1,508.9 993.3,508.9" fill="none" stroke="#111" stroke-width="1.25"/>
<polyline points="1012.8,508.9 1025,508.9" fill="none" stroke="#111" stroke-width="1.25"/>
<path d="M993.3,508.9 A9.75,9.4 0 0 1 1012.8,508.9" fill="none" stroke="#111" stroke-width="1.2"/>
<circle cx="980.1" cy="524.2" r="2.4" fill="#111"/>
<circle cx="1025" cy="524.2" r="2.4" fill="#111"/>
<polyline points="980.1,524.2 993.3,524.2" fill="none" stroke="#111" stroke-width="1.25"/>
<polyline points="1012.8,524.2 1025,524.2" fill="none" stroke="#111" stroke-width="1.25"/>
<path d="M993.3,524.2 A9.75,9.4 0 0 1 1012.8,524.2" fill="none" stroke="#111" stroke-width="1.2"/>
<circle cx="980.1" cy="539.4" r="2.4" fill="#111"/>
<circle cx="1025" cy="539.4" r="2.4" fill="#111"/>
<polyline points="980.1,539.4 993.3,539.4" fill="none" stroke="#111" stroke-width="1.25"/>
<polyline points="1012.8,539.4 1025,539.4" fill="none" stroke="#111" stroke-width="1.25"/>
<path d="M993.3,539.4 A9.75,9.4 0 0 1 1012.8,539.4" fill="none" stroke="#111" stroke-width="1.2"/>
<circle cx="980.1" cy="554.7" r="2.4" fill="#111"/>
<circle cx="1025" cy="554.7" r="2.4" fill="#111"/>
<polyline points="980.1,554.7 993.3,554.7" fill="none" stroke="#111" stroke-width="1.25"/>
<polyline points="1012.8,554.7 1025,554.7" fill="none" stroke="#111" stroke-width="1.25"/>
<path d="M993.3,554.7 A9.75,9.4 0 0 1 1012.8,554.7" fill="none" stroke="#111" stroke-width="1.2"/>
<circle cx="980.1" cy="591.1" r="2.4" fill="#111"/>
<circle cx="1025" cy="591.1" r="2.4" fill="#111"/>
<text x="1015.5" y="474.2" font-size="7" font-style="italic" font-weight="normal" font-family="Liberation Sans" fill="#111" style="white-space:pre" textLength="25" lengthAdjust="spacingAndGlyphs">ECC 83I</text>
<text x="993.5" y="483" font-size="6.4" font-style="italic" font-weight="normal" font-family="Liberation Sans" fill="#111" style="white-space:pre" textLength="20" lengthAdjust="spacingAndGlyphs">ECC83II</text>
<text x="993.5" y="498.7" font-size="6.4" font-style="italic" font-weight="normal" font-family="Liberation Sans" fill="#111" style="white-space:pre" textLength="20" lengthAdjust="spacingAndGlyphs">EL84I</text>
<text x="993.5" y="514.3" font-size="6.4" font-style="italic" font-weight="normal" font-family="Liberation Sans" fill="#111" style="white-space:pre" textLength="20" lengthAdjust="spacingAndGlyphs">EL84II</text>
<text x="993.5" y="529.5" font-size="6.4" font-style="italic" font-weight="normal" font-family="Liberation Sans" fill="#111" style="white-space:pre" textLength="20" lengthAdjust="spacingAndGlyphs">EL84III</text>
<text x="993.5" y="544.8" font-size="6.4" font-style="italic" font-weight="normal" font-family="Liberation Sans" fill="#111" style="white-space:pre" textLength="20" lengthAdjust="spacingAndGlyphs">EL84IV</text>
<text x="993.3" y="560.9" font-size="6.7" font-style="italic" font-weight="normal" font-family="Liberation Sans" fill="#111" style="white-space:pre" textLength="18.1" lengthAdjust="spacingAndGlyphs">2x100Ω</text>
<text x="982.2" y="567.9" font-size="7" font-style="italic" font-weight="normal" font-family="Liberation Sans" fill="#111" style="white-space:pre" textLength="9.1" lengthAdjust="spacingAndGlyphs">R34</text>
<text x="1011.4" y="567.9" font-size="7" font-style="italic" font-weight="normal" font-family="Liberation Sans" fill="#111" style="white-space:pre" textLength="11.1" lengthAdjust="spacingAndGlyphs">R35</text>
<polyline points="993.3,568.2 1013.5,568.2" fill="none" stroke="#111" stroke-width="1.25"/>
<polyline points="1003.5,562 1003.5,568.2" fill="none" stroke="#111" stroke-width="1.25"/>
<polyline points="999.5,562 1007.5,562" fill="none" stroke="#111" stroke-width="1.5"/>
<circle cx="1003.5" cy="568.2" r="1.6" fill="#111"/>
<polyline points="993.3,568.2 993.3,591.1" fill="none" stroke="#111" stroke-width="1.25"/>
<rect x="989.9" y="571.6" width="7" height="15.3" fill="#fff" stroke="#111" stroke-width="1.1"/>
<polygon points="996.9,571.6 996.9,586.9 989.9,586.9" fill="#111"/>
<polyline points="980.1,591.1 993.3,591.1" fill="none" stroke="#111" stroke-width="1.25"/>
<polyline points="1013.6,568.2 1013.6,591.1" fill="none" stroke="#111" stroke-width="1.25"/>
<rect x="1010.1" y="571.6" width="7" height="15.3" fill="#fff" stroke="#111" stroke-width="1.1"/>
<polygon points="1017.1,571.6 1017.1,586.9 1010.1,586.9" fill="#111"/>
<polyline points="1013.6,591.1 1025,591.1" fill="none" stroke="#111" stroke-width="1.25"/>
<text x="987.8" y="598.4" font-size="6.7" font-style="italic" font-weight="normal" font-family="Liberation Sans" fill="#111" style="white-space:pre" textLength="22.9" lengthAdjust="spacingAndGlyphs">10A/50V</text>
<text x="994.8" y="606.5" font-size="6.7" font-style="italic" font-weight="normal" font-family="Liberation Sans" fill="#111" style="white-space:pre" textLength="14.5" lengthAdjust="spacingAndGlyphs">weiß</text>
<text x="985.2" y="614.4" font-size="6.7" font-style="italic" font-weight="normal" font-family="Liberation Sans" fill="#111" style="white-space:pre" textLength="38.5" lengthAdjust="spacingAndGlyphs">WHT/BLANC</text>
<polyline points="1025,509.2 1185.5,509.2 1185.5,536.8" fill="none" stroke="#111" stroke-width="1.25"/>
<circle cx="1178" cy="461.1" r="26.4" fill="none" stroke="#111" stroke-width="1.4"/>
<circle cx="1177.5" cy="460.6" r="6.2" fill="none" stroke="#111" stroke-width="1.1"/>
<path d="M1174.2,465.70000000000005 q3.3,3 6.6,0 z" fill="#333" stroke="#111" stroke-width="0.8"/>
<circle cx="1169.9" cy="443" r="2.6" fill="#fdfdfd" stroke="#111" stroke-width="1.0"/>
<text x="1168.9" y="450.8" font-size="5.2" font-style="italic" font-family="Liberation Sans" text-anchor="middle" fill="#111">4</text>
<circle cx="1185.5" cy="443" r="2.6" fill="#fdfdfd" stroke="#111" stroke-width="1.0"/>
<text x="1182" y="450.8" font-size="5.2" font-style="italic" font-family="Liberation Sans" text-anchor="middle" fill="#111">5</text>
<circle cx="1159.5" cy="453.6" r="2.6" fill="#fdfdfd" stroke="#111" stroke-width="1.0"/>
<text x="1164.5" y="456.9" font-size="5.2" font-style="italic" font-family="Liberation Sans" text-anchor="middle" fill="#111">3</text>
<circle cx="1196.4" cy="453.6" r="2.6" fill="#fdfdfd" stroke="#111" stroke-width="1.0"/>
<text x="1190.9" y="455.9" font-size="5.2" font-style="italic" font-family="Liberation Sans" text-anchor="middle" fill="#111">6</text>
<circle cx="1159.5" cy="467.6" r="2.6" fill="#fdfdfd" stroke="#111" stroke-width="1.0"/>
<text x="1164.5" y="466.9" font-size="5.2" font-style="italic" font-family="Liberation Sans" text-anchor="middle" fill="#111">2</text>
<circle cx="1196.4" cy="468.8" r="2.6" fill="#fdfdfd" stroke="#111" stroke-width="1.0"/>
<text x="1192.9" y="467.1" font-size="5.2" font-style="italic" font-family="Liberation Sans" text-anchor="middle" fill="#111">7</text>
<circle cx="1170.6" cy="479.1" r="2.6" fill="#fdfdfd" stroke="#111" stroke-width="1.0"/>
<text x="1170.6" y="474.9" font-size="5.2" font-style="italic" font-family="Liberation Sans" text-anchor="middle" fill="#111">1</text>
<circle cx="1185.5" cy="479.1" r="2.6" fill="#fdfdfd" stroke="#111" stroke-width="1.0"/>
<text x="1185.5" y="474.4" font-size="5.2" font-style="italic" font-family="Liberation Sans" text-anchor="middle" fill="#111">8</text>
<circle cx="1177.9" cy="558.3" r="26.4" fill="none" stroke="#111" stroke-width="1.4"/>
<circle cx="1177.4" cy="557.8" r="6.2" fill="none" stroke="#111" stroke-width="1.1"/>
<path d="M1174.1000000000001,562.9 q3.3,3 6.6,0 z" fill="#333" stroke="#111" stroke-width="0.8"/>
<circle cx="1169.8" cy="540.2" r="2.6" fill="#fdfdfd" stroke="#111" stroke-width="1.0"/>
<text x="1168.8" y="548" font-size="5.2" font-style="italic" font-family="Liberation Sans" text-anchor="middle" fill="#111">4</text>
<circle cx="1185.4" cy="540.2" r="2.6" fill="#fdfdfd" stroke="#111" stroke-width="1.0"/>
<text x="1181.9" y="548" font-size="5.2" font-style="italic" font-family="Liberation Sans" text-anchor="middle" fill="#111">5</text>
<circle cx="1159.4" cy="550.8" r="2.6" fill="#fdfdfd" stroke="#111" stroke-width="1.0"/>
<text x="1164.4" y="554.1" font-size="5.2" font-style="italic" font-family="Liberation Sans" text-anchor="middle" fill="#111">3</text>
<circle cx="1196.3" cy="550.8" r="2.6" fill="#fdfdfd" stroke="#111" stroke-width="1.0"/>
<text x="1190.8" y="553.1" font-size="5.2" font-style="italic" font-family="Liberation Sans" text-anchor="middle" fill="#111">6</text>
<circle cx="1159.4" cy="564.8" r="2.6" fill="#fdfdfd" stroke="#111" stroke-width="1.0"/>
<text x="1164.4" y="564.1" font-size="5.2" font-style="italic" font-family="Liberation Sans" text-anchor="middle" fill="#111">2</text>
<circle cx="1196.3" cy="566" r="2.6" fill="#fdfdfd" stroke="#111" stroke-width="1.0"/>
<text x="1192.8" y="564.3" font-size="5.2" font-style="italic" font-family="Liberation Sans" text-anchor="middle" fill="#111">7</text>
<circle cx="1170.5" cy="576.3" r="2.6" fill="#111" stroke="#111" stroke-width="1.0"/>
<text x="1170.5" y="572.1" font-size="5.2" font-style="italic" font-family="Liberation Sans" text-anchor="middle" fill="#111">1</text>
<circle cx="1185.4" cy="576.3" r="2.6" fill="#fdfdfd" stroke="#111" stroke-width="1.0"/>
<text x="1185.4" y="571.6" font-size="5.2" font-style="italic" font-family="Liberation Sans" text-anchor="middle" fill="#111">8</text>
<polyline points="1198.9,453.6 1215.5,453.6" fill="none" stroke="#111" stroke-width="1.25"/>
<polyline points="1215.5,449.6 1215.5,457.6" fill="none" stroke="#111" stroke-width="1.5"/>
<polyline points="1139.8,550.8 1156.9,550.8" fill="none" stroke="#111" stroke-width="1.25"/>
<polyline points="1139.8,546.8 1139.8,554.8" fill="none" stroke="#111" stroke-width="1.5"/>
<text x="1181.6" y="352.2" font-size="7.5" font-style="italic" font-weight="normal" font-family="Liberation Sans" fill="#111" style="white-space:pre" textLength="104.8" lengthAdjust="spacingAndGlyphs">4 = 5Ω  rechts/RIGHT/DROIT</text>
<text x="1181.6" y="360.6" font-size="7.5" font-style="italic" font-weight="normal" font-family="Liberation Sans" fill="#111" style="white-space:pre" textLength="35.9" lengthAdjust="spacingAndGlyphs">6 = Masse</text>
<text x="1181.6" y="369.5" font-size="7.5" font-style="italic" font-weight="normal" font-family="Liberation Sans" fill="#111" style="white-space:pre" textLength="101.9" lengthAdjust="spacingAndGlyphs">8 = 5Ω  links/LEFT/GAUCHE</text>
<text x="1258.6" y="403.1" font-size="7.5" font-style="italic" font-weight="normal" font-family="Liberation Sans" fill="#111" style="white-space:pre" textLength="35" lengthAdjust="spacingAndGlyphs">Ausgang II</text>
<text x="1258.6" y="412.3" font-size="7.5" font-style="italic" font-weight="normal" font-family="Liberation Sans" fill="#111" style="white-space:pre" textLength="47.9" lengthAdjust="spacingAndGlyphs">Lautsprecher</text>
<text x="1259.1" y="436.7" font-size="7.5" font-style="italic" font-weight="normal" font-family="Liberation Sans" fill="#111" style="white-space:pre" textLength="34.5" lengthAdjust="spacingAndGlyphs">OUTPUT II</text>
<text x="1259.1" y="445.6" font-size="7.5" font-style="italic" font-weight="normal" font-family="Liberation Sans" fill="#111" style="white-space:pre" textLength="32.2" lengthAdjust="spacingAndGlyphs">SPEAKER</text>
<text x="1260.6" y="470.6" font-size="7.5" font-style="italic" font-weight="normal" font-family="Liberation Sans" fill="#111" style="white-space:pre" textLength="34.4" lengthAdjust="spacingAndGlyphs">SORTIE II</text>
<text x="1260.6" y="478.6" font-size="7.5" font-style="italic" font-weight="normal" font-family="Liberation Sans" fill="#111" style="white-space:pre" textLength="33" lengthAdjust="spacingAndGlyphs">PARLEUR</text>
<text x="1035" y="571.4" font-size="7.5" font-style="italic" font-weight="normal" font-family="Liberation Sans" fill="#111" style="white-space:pre" textLength="116.8" lengthAdjust="spacingAndGlyphs">Anschlüsse auf Lötfahnen gesehen</text>
<text x="1055.5" y="579.8" font-size="7.5" font-style="italic" font-weight="normal" font-family="Liberation Sans" fill="#111" style="white-space:pre" textLength="37.4" lengthAdjust="spacingAndGlyphs">TAG VIEW</text>
<text x="1035" y="588.2" font-size="7.5" font-style="italic" font-weight="normal" font-family="Liberation Sans" fill="#111" style="white-space:pre" textLength="108.4" lengthAdjust="spacingAndGlyphs">VU AUX CONTACTS A SOUDURE</text>
<rect x="1223" y="205.5" width="46.4" height="45.8" fill="none" stroke="#111" stroke-width="1.3"/>
<rect x="1226.5" y="209" width="17.3" height="17" fill="#252525"/>
<rect x="1247" y="209" width="18.9" height="17" fill="#8a8a8a"/>
<rect x="1247.5" y="209" width="0.9" height="17" fill="#6a6a6a"/>
<rect x="1249.6" y="209" width="0.9" height="17" fill="#6a6a6a"/>
<rect x="1251.7" y="209" width="0.9" height="17" fill="#6a6a6a"/>
<rect x="1253.8" y="209" width="0.9" height="17" fill="#6a6a6a"/>
<rect x="1255.9" y="209" width="0.9" height="17" fill="#6a6a6a"/>
<rect x="1258.0" y="209" width="0.9" height="17" fill="#6a6a6a"/>
<rect x="1260.1" y="209" width="0.9" height="17" fill="#6a6a6a"/>
<rect x="1262.2" y="209" width="0.9" height="17" fill="#6a6a6a"/>
<rect x="1264.3" y="209" width="0.9" height="17" fill="#6a6a6a"/>
<rect x="1226.5" y="229.5" width="39.4" height="17.8" fill="#bdbdbd"/>
<text x="65.5" y="555.6" font-size="7.4" font-style="italic" font-weight="bold" font-family="Liberation Sans" fill="#111" style="white-space:pre" textLength="52.2" lengthAdjust="spacingAndGlyphs">Ue = 50 mV  für</text>
<text x="65.5" y="563.6" font-size="7.4" font-style="italic" font-weight="bold" font-family="Liberation Sans" fill="#111" style="white-space:pre" textLength="41.3" lengthAdjust="spacingAndGlyphs">No = 50 mW</text>
<text x="65.5" y="572.6" font-size="7.4" font-style="italic" font-weight="bold" font-family="Liberation Sans" fill="#111" style="white-space:pre" textLength="37.5" lengthAdjust="spacingAndGlyphs">Ra = 5 Ω /</text>
<text x="104.8" y="575" font-size="7.4" font-style="italic" font-weight="bold" font-family="Liberation Sans" fill="#111" style="white-space:pre" textLength="19.2" lengthAdjust="spacingAndGlyphs">Kanal</text>
<text x="66.6" y="596.4" font-size="7.4" font-style="italic" font-weight="bold" font-family="Liberation Sans" fill="#111" style="white-space:pre" textLength="66" lengthAdjust="spacingAndGlyphs">UJ = ~  50m V  FOR</text>
<text x="64.6" y="604.4" font-size="7.4" font-style="italic" font-weight="bold" font-family="Liberation Sans" fill="#111" style="white-space:pre" textLength="53.1" lengthAdjust="spacingAndGlyphs">50m W  OUTPUT</text>
<text x="67.5" y="614.1" font-size="7.4" font-style="italic" font-weight="bold" font-family="Liberation Sans" fill="#111" style="white-space:pre" textLength="32.5" lengthAdjust="spacingAndGlyphs">R0 = 5 Ω/</text>
<text x="100.5" y="616.4" font-size="7.4" font-style="italic" font-weight="bold" font-family="Liberation Sans" fill="#111" style="white-space:pre" textLength="32.1" lengthAdjust="spacingAndGlyphs">CHANNEL</text>
<text x="68.3" y="638.9" font-size="7.4" font-style="italic" font-weight="bold" font-family="Liberation Sans" fill="#111" style="white-space:pre" textLength="49.4" lengthAdjust="spacingAndGlyphs">UJ = ~  50mV</text>
<text x="67.5" y="647.4" font-size="7.4" font-style="italic" font-weight="bold" font-family="Liberation Sans" fill="#111" style="white-space:pre" textLength="73.8" lengthAdjust="spacingAndGlyphs">POUR UNE SORTIE DE</text>
<text x="68.3" y="656" font-size="7.4" font-style="italic" font-weight="bold" font-family="Liberation Sans" fill="#111" style="white-space:pre" textLength="60.9" lengthAdjust="spacingAndGlyphs">50 mW  MESUREE</text>
<text x="70.3" y="666.1" font-size="7.4" font-style="italic" font-weight="bold" font-family="Liberation Sans" fill="#111" style="white-space:pre" textLength="24.4" lengthAdjust="spacingAndGlyphs">A  5 Ω/</text>
<text x="96.2" y="667.5" font-size="7.4" font-style="italic" font-weight="bold" font-family="Liberation Sans" fill="#111" style="white-space:pre" textLength="24.4" lengthAdjust="spacingAndGlyphs">CANAL</text>
<polyline points="91.6,839.2 129.7,839.2" fill="none" stroke="#111" stroke-width="1.25"/>
<polyline points="135.3,839.2 174.2,839.2" fill="none" stroke="#111" stroke-width="1.25"/>
<polyline points="129.7,831.7 129.7,846.7" fill="none" stroke="#111" stroke-width="2.6"/>
<polyline points="135.3,831.7 135.3,846.7" fill="none" stroke="#111" stroke-width="2.6"/>
<polyline points="91.6,864 129.7,864" fill="none" stroke="#111" stroke-width="1.25"/>
<polyline points="135.3,864 174.2,864" fill="none" stroke="#111" stroke-width="1.25"/>
<polyline points="129.7,856.5 129.7,871.5" fill="none" stroke="#111" stroke-width="2.6"/>
<polyline points="135.3,856.5 135.3,871.5" fill="none" stroke="#111" stroke-width="2.6"/>
<polyline points="91.6,889.2 129.7,889.2" fill="none" stroke="#111" stroke-width="1.25"/>
<polyline points="135.3,889.2 174.2,889.2" fill="none" stroke="#111" stroke-width="1.25"/>
<polyline points="129.7,881.7 129.7,896.7" fill="none" stroke="#111" stroke-width="2.6"/>
<polyline points="135.3,881.7 135.3,896.7" fill="none" stroke="#111" stroke-width="2.6"/>
<text x="145" y="834.4" font-size="7" font-style="italic" font-weight="normal" font-family="Liberation Sans" fill="#111" style="white-space:pre" textLength="23" lengthAdjust="spacingAndGlyphs">250V =</text>
<text x="146.3" y="861.8" font-size="7" font-style="italic" font-weight="normal" font-family="Liberation Sans" fill="#111" style="white-space:pre" textLength="21.7" lengthAdjust="spacingAndGlyphs">500V =</text>
<text x="143.8" y="887.1" font-size="7" font-style="italic" font-weight="normal" font-family="Liberation Sans" fill="#111" style="white-space:pre" textLength="23.2" lengthAdjust="spacingAndGlyphs">125V =</text>
<circle cx="125.6" cy="858.6" r="1.5" fill="#111"/>
<circle cx="125.6" cy="868.3" r="1.5" fill="#111"/>
<polyline points="123,885.3 126.5,885.3" fill="none" stroke="#111" stroke-width="1.8"/>
<path d="M180.3,832.4 q3,0 3,4 v13 q0,2.5 2.5,3 q-2.5,0.5 -2.5,3 v13 q0,4 -3,4" fill="none" stroke="#111" stroke-width="0.9"/>
<text x="192.4" y="842.2" font-size="7.3" font-style="italic" font-weight="normal" font-family="Liberation Sans" fill="#111" style="white-space:pre" textLength="21.9" lengthAdjust="spacingAndGlyphs">Papier-</text>
<text x="192.4" y="850.3" font-size="7.3" font-style="italic" font-weight="normal" font-family="Liberation Sans" fill="#111" style="white-space:pre" textLength="21.9" lengthAdjust="spacingAndGlyphs">PAPER</text>
<text x="191.2" y="858.8" font-size="7.3" font-style="italic" font-weight="normal" font-family="Liberation Sans" fill="#111" style="white-space:pre" textLength="25.5" lengthAdjust="spacingAndGlyphs">PAPIER</text>
<text x="185" y="884.3" font-size="7.3" font-style="italic" font-weight="normal" font-family="Liberation Sans" fill="#111" style="white-space:pre" textLength="30.5" lengthAdjust="spacingAndGlyphs">Styroflex</text>
<text x="185" y="892.8" font-size="7.3" font-style="italic" font-weight="normal" font-family="Liberation Sans" fill="#111" style="white-space:pre" textLength="46.3" lengthAdjust="spacingAndGlyphs">POLYSTYRENE</text>
<polyline points="275,862.2 357,862.2" fill="none" stroke="#111" stroke-width="1.25"/>
<rect x="309" y="858.1" width="17" height="9" fill="#fff" stroke="#111" stroke-width="1.1"/>
<polygon points="326,858.1 326,867.1 309,867.1" fill="#111"/>
<polyline points="276,888.2 357,888.2" fill="none" stroke="#111" stroke-width="1.25"/>
<rect x="309" y="884.6" width="16.6" height="8" fill="#fdfdfd" stroke="#111" stroke-width="1.1"/>
<polyline points="311.5,888.6 323,888.6" fill="none" stroke="#111" stroke-width="0.9"/>
<text x="337" y="858.3" font-size="7.3" font-style="italic" font-weight="normal" font-family="Liberation Sans" fill="#111" style="white-space:pre" textLength="18.3" lengthAdjust="spacingAndGlyphs">1/3 W</text>
<text x="333.4" y="885" font-size="7.3" font-style="italic" font-weight="normal" font-family="Liberation Sans" fill="#111" style="white-space:pre" textLength="17" lengthAdjust="spacingAndGlyphs">1/2W</text>
<polyline points="277,914 308,914" fill="none" stroke="#111" stroke-width="1.25"/>
<polyline points="308,913.5 308,916.7 311.4,916.7 311.4,909.5 314.8,909.5 314.8,916.7 318.2,916.7 318.2,909.5 321.7,909.5 321.7,916.7 325.1,916.7 325.1,909.5 328.5,909.5 328.5,913.5" fill="none" stroke="#111" stroke-width="1.3"/>
<polyline points="328.5,914 358,914" fill="none" stroke="#111" stroke-width="1.25"/>
<text x="294.5" y="925.6" font-size="7.3" font-style="italic" font-weight="bold" font-family="Liberation Sans" fill="#111" style="white-space:pre" textLength="60.8" lengthAdjust="spacingAndGlyphs">Drahtwiderstand</text>
<text x="294.5" y="933.6" font-size="7.3" font-style="italic" font-weight="bold" font-family="Liberation Sans" fill="#111" style="white-space:pre" textLength="57.1" lengthAdjust="spacingAndGlyphs">WIRE RESISTOR</text>
<text x="294.5" y="942.6" font-size="7.3" font-style="italic" font-weight="bold" font-family="Liberation Sans" fill="#111" style="white-space:pre" textLength="76.5" lengthAdjust="spacingAndGlyphs">RESISTANCE BOBINEE</text></svg></body></html>
